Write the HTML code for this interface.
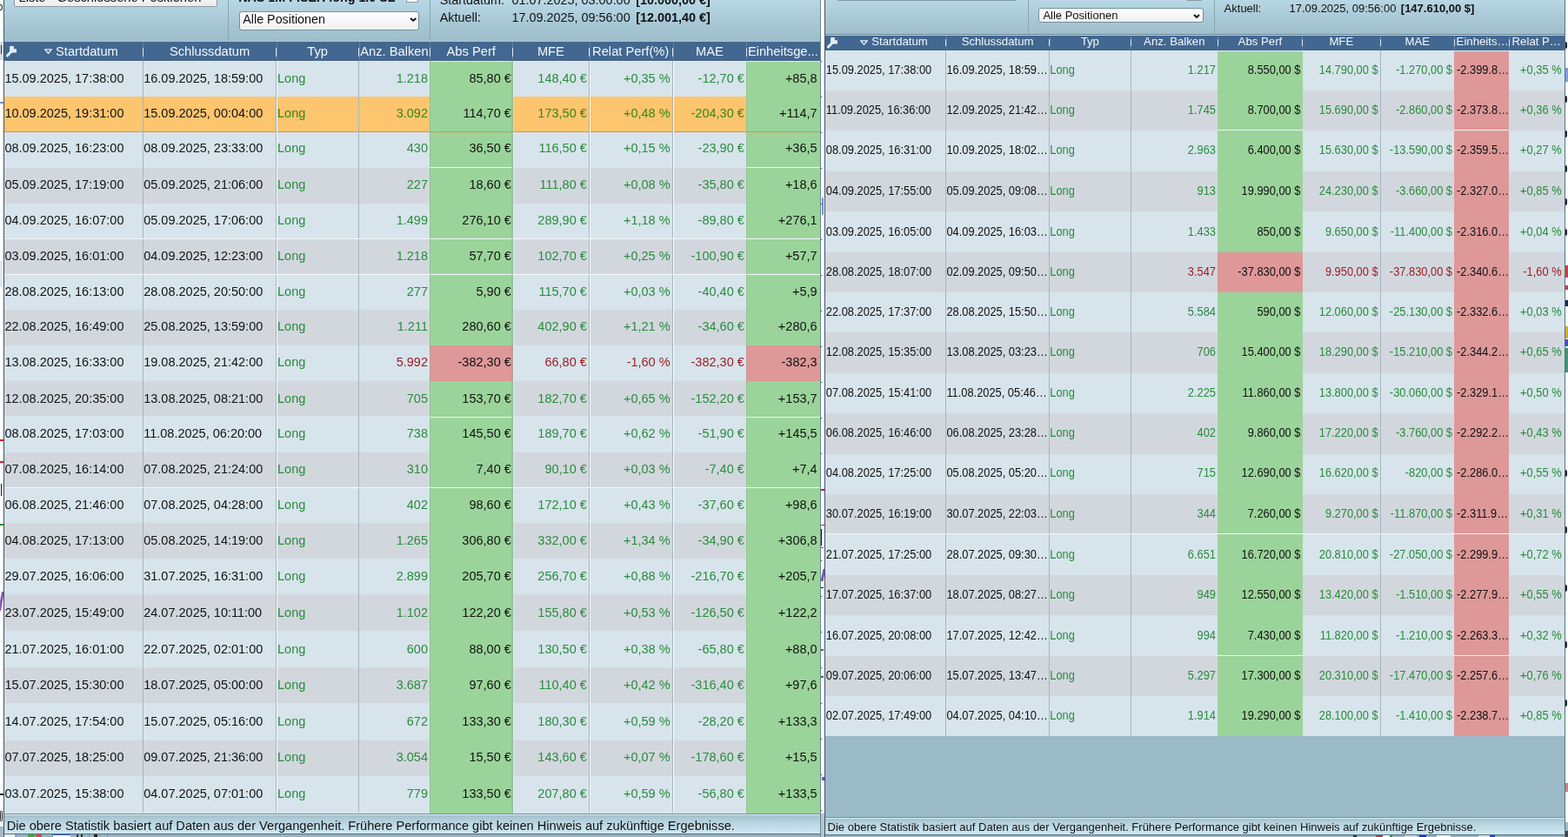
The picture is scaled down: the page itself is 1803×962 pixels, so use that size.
<!DOCTYPE html><html><head><meta charset="utf-8"><title>Geschlossene Positionen</title><style>
html,body{margin:0;padding:0;background:#ffffff;width:1803px;height:962px;overflow:hidden;}
body{position:relative;font-family:"Liberation Sans", Arial, sans-serif;}
body div, body svg{position:absolute;}
.t{white-space:nowrap;}
.sl{transform:scaleY(1.07);}
.sr{transform:scaleY(1.1);}
</style></head><body>
<div style="left:0.00px;top:958.00px;width:1803.00px;height:4.00px;background:#9ab2c0"></div>
<div style="left:0.00px;top:0.00px;width:3.90px;height:958.00px;background:#ffffff"></div>
<div style="left:943.60px;top:0.00px;width:4.20px;height:962.00px;background:#ffffff"></div>
<div style="left:1800.20px;top:0.00px;width:2.80px;height:962.00px;background:#ffffff"></div>
<div style="left:943.60px;top:935.00px;width:4.20px;height:27.00px;background:#b4c4cc"></div>
<div style="left:0.00px;top:950.00px;width:3.90px;height:12.00px;background:#a8b8c2"></div>
<div style="left:-3.00px;top:5.00px;width:6.00px;height:6.50px;border:1.3px solid #222;border-radius:50%;box-sizing:border-box"></div>
<div style="left:0.00px;top:48.00px;width:4.00px;height:21.00px;background:#d3dade"></div>
<div style="left:1.20px;top:52.00px;width:1.10px;height:10.00px;background:#333"></div>
<div style="left:0.00px;top:117.00px;width:4.00px;height:1.50px;background:#6f8fd8"></div>
<div style="left:0.00px;top:300.00px;width:4.00px;height:30.00px;background:#e4e8ea"></div>
<div style="left:0.00px;top:505.00px;width:4.00px;height:1.50px;background:#d02030"></div>
<div style="left:0.00px;top:530.00px;width:4.00px;height:1.50px;background:#d02030"></div>
<div style="left:1.00px;top:556.00px;width:1.20px;height:14.00px;background:#222"></div>
<div style="left:0.00px;top:602.00px;width:4.00px;height:1.50px;background:#209030"></div>
<div style="left:0.00px;top:680.00px;width:3.00px;height:22.00px;background:#8a5ab8;transform:skewX(-10deg)"></div>
<div style="left:0.00px;top:912.00px;width:4.00px;height:1.50px;background:#222"></div>
<div style="left:0.00px;top:930.00px;width:4.00px;height:20.00px;background:#f4f4f4"></div>
<div style="left:0.30px;top:932.00px;width:2.50px;height:12.00px;border:1.2px solid #222;border-radius:40%;box-sizing:border-box"></div>
<div style="left:944.20px;top:70.00px;width:1.20px;height:1.20px;background:#333"></div>
<div style="left:944.20px;top:111.00px;width:1.20px;height:1.20px;background:#333"></div>
<div style="left:944.20px;top:152.00px;width:1.20px;height:1.20px;background:#333"></div>
<div style="left:944.20px;top:193.00px;width:1.20px;height:1.20px;background:#333"></div>
<div style="left:944.20px;top:234.00px;width:1.20px;height:1.20px;background:#333"></div>
<div style="left:944.20px;top:275.00px;width:1.20px;height:1.20px;background:#333"></div>
<div style="left:944.20px;top:316.00px;width:1.20px;height:1.20px;background:#333"></div>
<div style="left:944.20px;top:357.00px;width:1.20px;height:1.20px;background:#333"></div>
<div style="left:944.20px;top:398.00px;width:1.20px;height:1.20px;background:#333"></div>
<div style="left:944.20px;top:439.00px;width:1.20px;height:1.20px;background:#333"></div>
<div style="left:944.20px;top:480.00px;width:1.20px;height:1.20px;background:#333"></div>
<div style="left:944.20px;top:521.00px;width:1.20px;height:1.20px;background:#333"></div>
<div style="left:944.20px;top:562.00px;width:1.20px;height:1.20px;background:#333"></div>
<div style="left:944.20px;top:603.00px;width:1.20px;height:1.20px;background:#333"></div>
<div style="left:944.20px;top:644.00px;width:1.20px;height:1.20px;background:#333"></div>
<div style="left:944.20px;top:685.00px;width:1.20px;height:1.20px;background:#333"></div>
<div style="left:944.20px;top:726.00px;width:1.20px;height:1.20px;background:#333"></div>
<div style="left:944.20px;top:767.00px;width:1.20px;height:1.20px;background:#333"></div>
<div style="left:944.20px;top:808.00px;width:1.20px;height:1.20px;background:#333"></div>
<div style="left:944.20px;top:849.00px;width:1.20px;height:1.20px;background:#333"></div>
<div style="left:944.20px;top:890.00px;width:1.20px;height:1.20px;background:#333"></div>
<div style="left:944.20px;top:931.00px;width:1.20px;height:1.20px;background:#333"></div>
<div style="left:945.20px;top:227.00px;width:2.20px;height:20.00px;background:#6a8ee0;border-radius:2px"></div>
<div style="left:944.00px;top:562.00px;width:4.00px;height:1.60px;background:#d01828"></div>
<div style="left:944.00px;top:603.00px;width:4.00px;height:1.40px;background:#d01828"></div>
<div style="left:944.30px;top:608.00px;width:1.20px;height:19.00px;background:#111"></div>
<div style="left:944.00px;top:629.00px;width:3.00px;height:1.20px;background:#d04040"></div>
<div style="left:945.00px;top:654.00px;width:2.60px;height:14.00px;background:#7a4ec0;transform:skewX(-12deg)"></div>
<div style="left:944.00px;top:675.00px;width:3.00px;height:1.40px;background:#111"></div>
<div style="left:944.00px;top:746.00px;width:3.00px;height:1.60px;background:#208030"></div>
<div style="left:944.00px;top:777.00px;width:3.00px;height:1.60px;background:#208030"></div>
<div style="left:945.00px;top:893.00px;width:2.60px;height:4.00px;background:#6a50c8"></div>
<div style="left:4.00px;top:959.00px;width:13.00px;height:3.00px;background:#eef0f2"></div>
<div style="left:32.00px;top:959.00px;width:8.00px;height:3.00px;background:#3caa3c"></div>
<div style="left:41.00px;top:959.00px;width:7.00px;height:3.00px;background:#d04a4a"></div>
<div style="left:60.00px;top:959.00px;width:20.00px;height:3.00px;background:#ffffff;border-left:1.5px solid #3caa3c;border-top:1px solid #3060c0"></div>
<div style="left:88.00px;top:959.00px;width:2.00px;height:3.00px;background:#333"></div>
<div style="left:93.00px;top:959.00px;width:2.00px;height:3.00px;background:#333"></div>
<div style="left:108.00px;top:959.00px;width:4.00px;height:3.00px;background:#222"></div>
<div style="left:18.00px;top:959.00px;width:1.00px;height:3.00px;background:#7890a0"></div>
<div style="left:102.00px;top:959.00px;width:1.00px;height:3.00px;background:#7890a0"></div>
<div style="left:123.00px;top:959.00px;width:1.00px;height:3.00px;background:#7890a0"></div>
<div style="left:1556.00px;top:960.00px;width:4.00px;height:2.00px;background:#333"></div>
<div style="left:1582.00px;top:960.00px;width:8.00px;height:2.00px;background:#c83a3a"></div>
<div style="left:1590.00px;top:960.00px;width:8.00px;height:2.00px;background:#ffffff"></div>
<div style="left:1598.00px;top:960.00px;width:3.00px;height:2.00px;background:#30a030"></div>
<div style="left:1615.00px;top:960.00px;width:14.00px;height:2.00px;background:#d8d8d8"></div>
<div style="left:1632.00px;top:960.00px;width:8.00px;height:2.00px;background:#1030e0"></div>
<div style="left:1652.00px;top:960.00px;width:16.00px;height:2.00px;background:#ffffff"></div>
<div style="left:1700.00px;top:960.00px;width:14.00px;height:2.00px;background:#e0e0e0"></div>
<div style="left:1713.00px;top:960.00px;width:6.00px;height:2.00px;background:#2040d0"></div>
<div style="left:1800.30px;top:48.00px;width:1.60px;height:8.00px;background:#222;border-radius:0 3px 3px 0"></div>
<div style="left:1800.30px;top:110.00px;width:1.60px;height:8.00px;background:#222;border-radius:0 3px 3px 0"></div>
<div style="left:1800.30px;top:150.00px;width:1.60px;height:8.00px;background:#222;border-radius:0 3px 3px 0"></div>
<div style="left:1800.30px;top:190.00px;width:1.60px;height:8.00px;background:#222;border-radius:0 3px 3px 0"></div>
<div style="left:1800.30px;top:228.00px;width:1.60px;height:8.00px;background:#222;border-radius:0 3px 3px 0"></div>
<div style="left:1800.30px;top:263.00px;width:1.60px;height:8.00px;background:#222;border-radius:0 3px 3px 0"></div>
<div style="left:1800.30px;top:540.00px;width:1.60px;height:8.00px;background:#222;border-radius:0 3px 3px 0"></div>
<div style="left:1800.30px;top:605.00px;width:1.60px;height:8.00px;background:#222;border-radius:0 3px 3px 0"></div>
<div style="left:1800.30px;top:672.00px;width:1.60px;height:8.00px;background:#222;border-radius:0 3px 3px 0"></div>
<div style="left:1800.30px;top:737.00px;width:1.60px;height:8.00px;background:#222;border-radius:0 3px 3px 0"></div>
<div style="left:1800.30px;top:804.00px;width:1.60px;height:8.00px;background:#222;border-radius:0 3px 3px 0"></div>
<div style="left:1800.30px;top:78.00px;width:2.50px;height:16.00px;background:#7aa0e0"></div>
<div style="left:1800.30px;top:305.00px;width:2.50px;height:14.00px;background:#c84040"></div>
<div style="left:1800.30px;top:328.00px;width:2.50px;height:5.00px;background:#c84040"></div>
<div style="left:1800.30px;top:345.00px;width:2.50px;height:7.00px;background:#202050"></div>
<div style="left:1800.30px;top:375.00px;width:2.50px;height:14.00px;background:#d8a830"></div>
<div style="left:1800.30px;top:390.00px;width:2.50px;height:8.00px;background:#4a4ac8"></div>
<div style="left:1800.30px;top:400.00px;width:2.50px;height:28.00px;background:#3a9a6a"></div>
<div style="left:1800.20px;top:945.00px;width:2.80px;height:10.00px;background:#a6b8c4"></div>
<div style="left:1800.20px;top:955.00px;width:2.80px;height:7.00px;background:#444"></div>
<div style="left:1800.20px;top:900.00px;width:2.80px;height:10.00px;background:#d08080"></div>
<div style="left:5.00px;top:0.00px;width:938.60px;height:48.20px;background:linear-gradient(#b9d8e6,#a9c9d7 50%,#9dbdcb)"></div>
<div style="left:16.20px;top:-14.00px;width:233.50px;height:22.20px;background:linear-gradient(#ffffff,#ececec);border:1px solid #8f9aa3;border-radius:2px;box-sizing:border-box"></div>
<div class="t" style="left:21.5px;top:-11.4px;font-size:14.7px;line-height:16px;color:#111">Liste - Geschlossene Positionen</div>
<div style="left:262.20px;top:0.00px;width:1.00px;height:48.20px;background:#87a6b5"></div>
<div style="left:494.20px;top:0.00px;width:1.00px;height:48.20px;background:#87a6b5"></div>
<div class="t" style="left:274.2px;top:-10.6px;font-size:14.3px;line-height:16px;font-weight:bold;color:#111">NAS 1M FISER long 1.0 SL</div>
<div style="left:467.20px;top:-10.00px;width:13.40px;height:12.50px;background:#fafafa;border:1px solid #8a96a0;box-sizing:border-box"></div>
<div style="left:275.40px;top:13.30px;width:206.60px;height:21.60px;background:linear-gradient(#ffffff,#f0f0f0);border:1px solid #72909c;border-radius:3px;box-sizing:border-box"></div>
<div class="t" style="left:279.3px;top:13.2px;font-size:14.3px;line-height:19px;color:#111">Alle Positionen</div>
<svg style="left:470.6px;top:20.4px;width:8.4px;height:4.8px" viewBox="0 0 8.4 4.8"><path d="M1 1 L4.2 3.6999999999999997 L7.4 1" fill="none" stroke="#111" stroke-width="2"/></svg>
<div class="t" style="left:505.7px;top:-8.4px;font-size:14.4px;line-height:16px;color:#111">Startdatum:</div>
<div class="t" style="left:588.6px;top:-8.4px;font-size:14.4px;line-height:16px;color:#111">01.07.2025, 03:00:00</div>
<div class="t" style="left:731.3px;top:-8.4px;font-size:14.4px;line-height:16px;color:#111;font-weight:bold">[10.000,00 €]</div>
<div class="t" style="left:505.7px;top:11.5px;font-size:14.4px;line-height:16px;color:#111">Aktuell:</div>
<div class="t" style="left:588.6px;top:11.5px;font-size:14.4px;line-height:16px;color:#111">17.09.2025, 09:56:00</div>
<div class="t" style="left:731.3px;top:11.5px;font-size:14.4px;line-height:16px;color:#111;font-weight:bold">[12.001,40 €]</div>
<div style="left:5.00px;top:47.00px;width:938.60px;height:1.00px;background:#a6c4d4"></div>
<div style="left:5.00px;top:48.00px;width:938.60px;height:21.00px;background:#426790"></div>
<div style="left:5.00px;top:69.00px;width:938.60px;height:1.00px;background:#4a6482"></div>
<svg style="left:6.0px;top:51.8px;width:14.0px;height:14.0px" viewBox="0 0 14 14"><path d="M2.4 12.0 L7.4 6.8" stroke="#e6eefa" stroke-width="3.0" stroke-linecap="round" fill="none"/><path d="M5.1 1.7 Q5.3 1.0 6.0 1.0 L9.9 1.0 L9.9 4.2 L13.0 4.2 L13.0 8.6 L7.4 8.6 L5.1 6.6 Z" fill="#e6eefa"/></svg>
<svg style="left:51.2px;top:55.8px;width:9px;height:6px" viewBox="0 0 9 6"><path d="M0.7 0.8 L8.3 0.8 L4.5 5.4 Z" fill="none" stroke="#e6eefa" stroke-width="1.3" stroke-linejoin="miter"/></svg>
<div class="t" style="left:64.00px;top:48.80px;height:21.50px;line-height:21.50px;font-size:14.7px;color:#f2f6fa;">Startdatum</div>
<div class="t" style="left:164.50px;width:153.20px;top:48.80px;height:21.50px;line-height:21.50px;font-size:14.7px;color:#f2f6fa;text-align:center;">Schlussdatum</div>
<div class="t" style="left:317.70px;width:95.00px;top:48.80px;height:21.50px;line-height:21.50px;font-size:14.7px;color:#f2f6fa;text-align:center;">Typ</div>
<div class="t" style="left:414.30px;top:48.80px;height:21.50px;line-height:21.50px;font-size:14.7px;color:#f2f6fa;">Anz. Balken</div>
<div class="t" style="left:494.30px;width:94.80px;top:48.80px;height:21.50px;line-height:21.50px;font-size:14.7px;color:#f2f6fa;text-align:center;">Abs Perf</div>
<div class="t" style="left:589.10px;width:88.60px;top:48.80px;height:21.50px;line-height:21.50px;font-size:14.7px;color:#f2f6fa;text-align:center;">MFE</div>
<div class="t" style="left:681.10px;top:48.80px;height:21.50px;line-height:21.50px;font-size:14.7px;color:#f2f6fa;">Relat Perf(%)</div>
<div class="t" style="left:773.70px;width:84.60px;top:48.80px;height:21.50px;line-height:21.50px;font-size:14.7px;color:#f2f6fa;text-align:center;">MAE</div>
<div class="t" style="left:859.90px;top:48.80px;height:21.50px;line-height:21.50px;font-size:14.7px;color:#f2f6fa;">Einheitsge...</div>
<div style="left:163.50px;top:48.00px;width:1.00px;height:21.00px;background:rgba(210,225,235,0.22)"></div>
<div style="left:164.00px;top:54.60px;width:1.20px;height:10.70px;background:#dfe8f2"></div>
<div style="left:317.50px;top:48.00px;width:1.00px;height:21.00px;background:rgba(210,225,235,0.22)"></div>
<div style="left:317.20px;top:54.60px;width:1.20px;height:10.70px;background:#dfe8f2"></div>
<div style="left:412.50px;top:48.00px;width:1.00px;height:21.00px;background:rgba(210,225,235,0.22)"></div>
<div style="left:412.20px;top:54.60px;width:1.20px;height:10.70px;background:#dfe8f2"></div>
<div style="left:493.50px;top:48.00px;width:1.00px;height:21.00px;background:rgba(210,225,235,0.22)"></div>
<div style="left:493.80px;top:54.60px;width:1.20px;height:10.70px;background:#dfe8f2"></div>
<div style="left:588.50px;top:48.00px;width:1.00px;height:21.00px;background:rgba(210,225,235,0.22)"></div>
<div style="left:588.60px;top:54.60px;width:1.20px;height:10.70px;background:#dfe8f2"></div>
<div style="left:677.50px;top:48.00px;width:1.00px;height:21.00px;background:rgba(210,225,235,0.22)"></div>
<div style="left:677.20px;top:54.60px;width:1.20px;height:10.70px;background:#dfe8f2"></div>
<div style="left:773.50px;top:48.00px;width:1.00px;height:21.00px;background:rgba(210,225,235,0.22)"></div>
<div style="left:773.20px;top:54.60px;width:1.20px;height:10.70px;background:#dfe8f2"></div>
<div style="left:857.50px;top:48.00px;width:1.00px;height:21.00px;background:rgba(210,225,235,0.22)"></div>
<div style="left:857.80px;top:54.60px;width:1.20px;height:10.70px;background:#dfe8f2"></div>
<div style="left:5.00px;top:70.00px;width:938.60px;height:41.00px;background:#d7e4ec"></div>
<div style="left:494.00px;top:70.00px;width:96.00px;height:41.00px;background:#9bd49a"></div>
<div style="left:858.00px;top:70.00px;width:86.00px;height:41.00px;background:#9bd49a"></div>
<div class="t sl" style="left:5.40px;top:69.95px;height:41.00px;line-height:41.00px;font-size:14.5px;color:#111111;">15.09.2025, 17:38:00</div>
<div class="t sl" style="left:165.20px;top:69.95px;height:41.00px;line-height:41.00px;font-size:14.5px;color:#111111;">16.09.2025, 18:59:00</div>
<div class="t sl" style="left:319.00px;top:69.95px;height:41.00px;line-height:41.00px;font-size:14.5px;color:#288c3a;">Long</div>
<div class="t sl" style="right:1311.00px;top:69.95px;height:41.00px;line-height:41.00px;font-size:14.5px;color:#288c3a;text-align:right;">1.218</div>
<div class="t sl" style="right:1215.20px;top:69.95px;height:41.00px;line-height:41.00px;font-size:14.5px;color:#111111;text-align:right;">85,80 €</div>
<div class="t sl" style="right:1128.20px;top:69.95px;height:41.00px;line-height:41.00px;font-size:14.5px;color:#288c3a;text-align:right;">148,40 €</div>
<div class="t sl" style="right:1032.40px;top:69.95px;height:41.00px;line-height:41.00px;font-size:14.5px;color:#288c3a;text-align:right;">+0,35 %</div>
<div class="t sl" style="right:947.20px;top:69.95px;height:41.00px;line-height:41.00px;font-size:14.5px;color:#288c3a;text-align:right;">-12,70 €</div>
<div class="t sl" style="right:863.40px;top:69.95px;height:41.00px;line-height:41.00px;font-size:14.5px;color:#111111;text-align:right;">+85,8</div>
<div style="left:5.00px;top:111.00px;width:938.60px;height:41.00px;background:#fdc56e"></div>
<div style="left:494.00px;top:111.00px;width:96.00px;height:41.00px;background:#9bd49a"></div>
<div style="left:858.00px;top:111.00px;width:86.00px;height:41.00px;background:#9bd49a"></div>
<div style="left:5.00px;top:151.00px;width:938.60px;height:1.00px;background:#d4924e"></div>
<div class="t sl" style="left:5.40px;top:110.30px;height:41.00px;line-height:41.00px;font-size:14.5px;color:#111111;">10.09.2025, 19:31:00</div>
<div class="t sl" style="left:165.20px;top:110.30px;height:41.00px;line-height:41.00px;font-size:14.5px;color:#111111;">15.09.2025, 00:04:00</div>
<div class="t sl" style="left:319.00px;top:110.30px;height:41.00px;line-height:41.00px;font-size:14.5px;color:#3a8616;">Long</div>
<div class="t sl" style="right:1311.00px;top:110.30px;height:41.00px;line-height:41.00px;font-size:14.5px;color:#3a8616;text-align:right;">3.092</div>
<div class="t sl" style="right:1215.20px;top:110.30px;height:41.00px;line-height:41.00px;font-size:14.5px;color:#111111;text-align:right;">114,70 €</div>
<div class="t sl" style="right:1128.20px;top:110.30px;height:41.00px;line-height:41.00px;font-size:14.5px;color:#3a8616;text-align:right;">173,50 €</div>
<div class="t sl" style="right:1032.40px;top:110.30px;height:41.00px;line-height:41.00px;font-size:14.5px;color:#3a8616;text-align:right;">+0,48 %</div>
<div class="t sl" style="right:947.20px;top:110.30px;height:41.00px;line-height:41.00px;font-size:14.5px;color:#3a8616;text-align:right;">-204,30 €</div>
<div class="t sl" style="right:863.40px;top:110.30px;height:41.00px;line-height:41.00px;font-size:14.5px;color:#111111;text-align:right;">+114,7</div>
<div style="left:5.00px;top:152.00px;width:938.60px;height:41.00px;background:#d7e4ec"></div>
<div style="left:494.00px;top:152.00px;width:96.00px;height:41.00px;background:#9bd49a"></div>
<div style="left:858.00px;top:152.00px;width:86.00px;height:41.00px;background:#9bd49a"></div>
<div class="t sl" style="left:5.40px;top:150.40px;height:41.00px;line-height:41.00px;font-size:14.5px;color:#111111;">08.09.2025, 16:23:00</div>
<div class="t sl" style="left:165.20px;top:150.40px;height:41.00px;line-height:41.00px;font-size:14.5px;color:#111111;">08.09.2025, 23:33:00</div>
<div class="t sl" style="left:319.00px;top:150.40px;height:41.00px;line-height:41.00px;font-size:14.5px;color:#288c3a;">Long</div>
<div class="t sl" style="right:1311.00px;top:150.40px;height:41.00px;line-height:41.00px;font-size:14.5px;color:#288c3a;text-align:right;">430</div>
<div class="t sl" style="right:1215.20px;top:150.40px;height:41.00px;line-height:41.00px;font-size:14.5px;color:#111111;text-align:right;">36,50 €</div>
<div class="t sl" style="right:1128.20px;top:150.40px;height:41.00px;line-height:41.00px;font-size:14.5px;color:#288c3a;text-align:right;">116,50 €</div>
<div class="t sl" style="right:1032.40px;top:150.40px;height:41.00px;line-height:41.00px;font-size:14.5px;color:#288c3a;text-align:right;">+0,15 %</div>
<div class="t sl" style="right:947.20px;top:150.40px;height:41.00px;line-height:41.00px;font-size:14.5px;color:#288c3a;text-align:right;">-23,90 €</div>
<div class="t sl" style="right:863.40px;top:150.40px;height:41.00px;line-height:41.00px;font-size:14.5px;color:#111111;text-align:right;">+36,5</div>
<div style="left:5.00px;top:193.00px;width:938.60px;height:41.00px;background:#d2d7de"></div>
<div style="left:494.00px;top:193.00px;width:96.00px;height:41.00px;background:#9bd49a"></div>
<div style="left:858.00px;top:193.00px;width:86.00px;height:41.00px;background:#9bd49a"></div>
<div class="t sl" style="left:5.40px;top:191.60px;height:41.00px;line-height:41.00px;font-size:14.5px;color:#111111;">05.09.2025, 17:19:00</div>
<div class="t sl" style="left:165.20px;top:191.60px;height:41.00px;line-height:41.00px;font-size:14.5px;color:#111111;">05.09.2025, 21:06:00</div>
<div class="t sl" style="left:319.00px;top:191.60px;height:41.00px;line-height:41.00px;font-size:14.5px;color:#288c3a;">Long</div>
<div class="t sl" style="right:1311.00px;top:191.60px;height:41.00px;line-height:41.00px;font-size:14.5px;color:#288c3a;text-align:right;">227</div>
<div class="t sl" style="right:1215.20px;top:191.60px;height:41.00px;line-height:41.00px;font-size:14.5px;color:#111111;text-align:right;">18,60 €</div>
<div class="t sl" style="right:1128.20px;top:191.60px;height:41.00px;line-height:41.00px;font-size:14.5px;color:#288c3a;text-align:right;">111,80 €</div>
<div class="t sl" style="right:1032.40px;top:191.60px;height:41.00px;line-height:41.00px;font-size:14.5px;color:#288c3a;text-align:right;">+0,08 %</div>
<div class="t sl" style="right:947.20px;top:191.60px;height:41.00px;line-height:41.00px;font-size:14.5px;color:#288c3a;text-align:right;">-35,80 €</div>
<div class="t sl" style="right:863.40px;top:191.60px;height:41.00px;line-height:41.00px;font-size:14.5px;color:#111111;text-align:right;">+18,6</div>
<div style="left:5.00px;top:234.00px;width:938.60px;height:40.00px;background:#d7e4ec"></div>
<div style="left:494.00px;top:234.00px;width:96.00px;height:40.00px;background:#9bd49a"></div>
<div style="left:858.00px;top:234.00px;width:86.00px;height:40.00px;background:#9bd49a"></div>
<div class="t sl" style="left:5.40px;top:233.10px;height:40.00px;line-height:40.00px;font-size:14.5px;color:#111111;">04.09.2025, 16:07:00</div>
<div class="t sl" style="left:165.20px;top:233.10px;height:40.00px;line-height:40.00px;font-size:14.5px;color:#111111;">05.09.2025, 17:06:00</div>
<div class="t sl" style="left:319.00px;top:233.10px;height:40.00px;line-height:40.00px;font-size:14.5px;color:#288c3a;">Long</div>
<div class="t sl" style="right:1311.00px;top:233.10px;height:40.00px;line-height:40.00px;font-size:14.5px;color:#288c3a;text-align:right;">1.499</div>
<div class="t sl" style="right:1215.20px;top:233.10px;height:40.00px;line-height:40.00px;font-size:14.5px;color:#111111;text-align:right;">276,10 €</div>
<div class="t sl" style="right:1128.20px;top:233.10px;height:40.00px;line-height:40.00px;font-size:14.5px;color:#288c3a;text-align:right;">289,90 €</div>
<div class="t sl" style="right:1032.40px;top:233.10px;height:40.00px;line-height:40.00px;font-size:14.5px;color:#288c3a;text-align:right;">+1,18 %</div>
<div class="t sl" style="right:947.20px;top:233.10px;height:40.00px;line-height:40.00px;font-size:14.5px;color:#288c3a;text-align:right;">-89,80 €</div>
<div class="t sl" style="right:863.40px;top:233.10px;height:40.00px;line-height:40.00px;font-size:14.5px;color:#111111;text-align:right;">+276,1</div>
<div style="left:5.00px;top:274.00px;width:938.60px;height:42.00px;background:#d2d7de"></div>
<div style="left:494.00px;top:274.00px;width:96.00px;height:42.00px;background:#9bd49a"></div>
<div style="left:858.00px;top:274.00px;width:86.00px;height:42.00px;background:#9bd49a"></div>
<div class="t sl" style="left:5.40px;top:273.00px;height:42.00px;line-height:42.00px;font-size:14.5px;color:#111111;">03.09.2025, 16:01:00</div>
<div class="t sl" style="left:165.20px;top:273.00px;height:42.00px;line-height:42.00px;font-size:14.5px;color:#111111;">04.09.2025, 12:23:00</div>
<div class="t sl" style="left:319.00px;top:273.00px;height:42.00px;line-height:42.00px;font-size:14.5px;color:#288c3a;">Long</div>
<div class="t sl" style="right:1311.00px;top:273.00px;height:42.00px;line-height:42.00px;font-size:14.5px;color:#288c3a;text-align:right;">1.218</div>
<div class="t sl" style="right:1215.20px;top:273.00px;height:42.00px;line-height:42.00px;font-size:14.5px;color:#111111;text-align:right;">57,70 €</div>
<div class="t sl" style="right:1128.20px;top:273.00px;height:42.00px;line-height:42.00px;font-size:14.5px;color:#288c3a;text-align:right;">102,70 €</div>
<div class="t sl" style="right:1032.40px;top:273.00px;height:42.00px;line-height:42.00px;font-size:14.5px;color:#288c3a;text-align:right;">+0,25 %</div>
<div class="t sl" style="right:947.20px;top:273.00px;height:42.00px;line-height:42.00px;font-size:14.5px;color:#288c3a;text-align:right;">-100,90 €</div>
<div class="t sl" style="right:863.40px;top:273.00px;height:42.00px;line-height:42.00px;font-size:14.5px;color:#111111;text-align:right;">+57,7</div>
<div style="left:5.00px;top:316.00px;width:938.60px;height:40.00px;background:#d7e4ec"></div>
<div style="left:494.00px;top:316.00px;width:96.00px;height:40.00px;background:#9bd49a"></div>
<div style="left:858.00px;top:316.00px;width:86.00px;height:40.00px;background:#9bd49a"></div>
<div class="t sl" style="left:5.40px;top:315.00px;height:40.00px;line-height:40.00px;font-size:14.5px;color:#111111;">28.08.2025, 16:13:00</div>
<div class="t sl" style="left:165.20px;top:315.00px;height:40.00px;line-height:40.00px;font-size:14.5px;color:#111111;">28.08.2025, 20:50:00</div>
<div class="t sl" style="left:319.00px;top:315.00px;height:40.00px;line-height:40.00px;font-size:14.5px;color:#288c3a;">Long</div>
<div class="t sl" style="right:1311.00px;top:315.00px;height:40.00px;line-height:40.00px;font-size:14.5px;color:#288c3a;text-align:right;">277</div>
<div class="t sl" style="right:1215.20px;top:315.00px;height:40.00px;line-height:40.00px;font-size:14.5px;color:#111111;text-align:right;">5,90 €</div>
<div class="t sl" style="right:1128.20px;top:315.00px;height:40.00px;line-height:40.00px;font-size:14.5px;color:#288c3a;text-align:right;">115,70 €</div>
<div class="t sl" style="right:1032.40px;top:315.00px;height:40.00px;line-height:40.00px;font-size:14.5px;color:#288c3a;text-align:right;">+0,03 %</div>
<div class="t sl" style="right:947.20px;top:315.00px;height:40.00px;line-height:40.00px;font-size:14.5px;color:#288c3a;text-align:right;">-40,40 €</div>
<div class="t sl" style="right:863.40px;top:315.00px;height:40.00px;line-height:40.00px;font-size:14.5px;color:#111111;text-align:right;">+5,9</div>
<div style="left:5.00px;top:356.00px;width:938.60px;height:41.00px;background:#d2d7de"></div>
<div style="left:494.00px;top:356.00px;width:96.00px;height:41.00px;background:#9bd49a"></div>
<div style="left:858.00px;top:356.00px;width:86.00px;height:41.00px;background:#9bd49a"></div>
<div class="t sl" style="left:5.40px;top:355.40px;height:41.00px;line-height:41.00px;font-size:14.5px;color:#111111;">22.08.2025, 16:49:00</div>
<div class="t sl" style="left:165.20px;top:355.40px;height:41.00px;line-height:41.00px;font-size:14.5px;color:#111111;">25.08.2025, 13:59:00</div>
<div class="t sl" style="left:319.00px;top:355.40px;height:41.00px;line-height:41.00px;font-size:14.5px;color:#288c3a;">Long</div>
<div class="t sl" style="right:1311.00px;top:355.40px;height:41.00px;line-height:41.00px;font-size:14.5px;color:#288c3a;text-align:right;">1.211</div>
<div class="t sl" style="right:1215.20px;top:355.40px;height:41.00px;line-height:41.00px;font-size:14.5px;color:#111111;text-align:right;">280,60 €</div>
<div class="t sl" style="right:1128.20px;top:355.40px;height:41.00px;line-height:41.00px;font-size:14.5px;color:#288c3a;text-align:right;">402,90 €</div>
<div class="t sl" style="right:1032.40px;top:355.40px;height:41.00px;line-height:41.00px;font-size:14.5px;color:#288c3a;text-align:right;">+1,21 %</div>
<div class="t sl" style="right:947.20px;top:355.40px;height:41.00px;line-height:41.00px;font-size:14.5px;color:#288c3a;text-align:right;">-34,60 €</div>
<div class="t sl" style="right:863.40px;top:355.40px;height:41.00px;line-height:41.00px;font-size:14.5px;color:#111111;text-align:right;">+280,6</div>
<div style="left:5.00px;top:397.00px;width:938.60px;height:41.00px;background:#d7e4ec"></div>
<div style="left:494.00px;top:397.00px;width:96.00px;height:41.00px;background:#de9898"></div>
<div style="left:858.00px;top:397.00px;width:86.00px;height:41.00px;background:#de9898"></div>
<div class="t sl" style="left:5.40px;top:396.30px;height:41.00px;line-height:41.00px;font-size:14.5px;color:#111111;">13.08.2025, 16:33:00</div>
<div class="t sl" style="left:165.20px;top:396.30px;height:41.00px;line-height:41.00px;font-size:14.5px;color:#111111;">19.08.2025, 21:42:00</div>
<div class="t sl" style="left:319.00px;top:396.30px;height:41.00px;line-height:41.00px;font-size:14.5px;color:#288c3a;">Long</div>
<div class="t sl" style="right:1311.00px;top:396.30px;height:41.00px;line-height:41.00px;font-size:14.5px;color:#9e1a1e;text-align:right;">5.992</div>
<div class="t sl" style="right:1215.20px;top:396.30px;height:41.00px;line-height:41.00px;font-size:14.5px;color:#111111;text-align:right;">-382,30 €</div>
<div class="t sl" style="right:1128.20px;top:396.30px;height:41.00px;line-height:41.00px;font-size:14.5px;color:#9e1a1e;text-align:right;">66,80 €</div>
<div class="t sl" style="right:1032.40px;top:396.30px;height:41.00px;line-height:41.00px;font-size:14.5px;color:#9e1a1e;text-align:right;">-1,60 %</div>
<div class="t sl" style="right:947.20px;top:396.30px;height:41.00px;line-height:41.00px;font-size:14.5px;color:#9e1a1e;text-align:right;">-382,30 €</div>
<div class="t sl" style="right:863.40px;top:396.30px;height:41.00px;line-height:41.00px;font-size:14.5px;color:#111111;text-align:right;">-382,3</div>
<div style="left:5.00px;top:438.00px;width:938.60px;height:40.00px;background:#d2d7de"></div>
<div style="left:494.00px;top:438.00px;width:96.00px;height:40.00px;background:#9bd49a"></div>
<div style="left:858.00px;top:438.00px;width:86.00px;height:40.00px;background:#9bd49a"></div>
<div class="t sl" style="left:5.40px;top:437.50px;height:40.00px;line-height:40.00px;font-size:14.5px;color:#111111;">12.08.2025, 20:35:00</div>
<div class="t sl" style="left:165.20px;top:437.50px;height:40.00px;line-height:40.00px;font-size:14.5px;color:#111111;">13.08.2025, 08:21:00</div>
<div class="t sl" style="left:319.00px;top:437.50px;height:40.00px;line-height:40.00px;font-size:14.5px;color:#288c3a;">Long</div>
<div class="t sl" style="right:1311.00px;top:437.50px;height:40.00px;line-height:40.00px;font-size:14.5px;color:#288c3a;text-align:right;">705</div>
<div class="t sl" style="right:1215.20px;top:437.50px;height:40.00px;line-height:40.00px;font-size:14.5px;color:#111111;text-align:right;">153,70 €</div>
<div class="t sl" style="right:1128.20px;top:437.50px;height:40.00px;line-height:40.00px;font-size:14.5px;color:#288c3a;text-align:right;">182,70 €</div>
<div class="t sl" style="right:1032.40px;top:437.50px;height:40.00px;line-height:40.00px;font-size:14.5px;color:#288c3a;text-align:right;">+0,65 %</div>
<div class="t sl" style="right:947.20px;top:437.50px;height:40.00px;line-height:40.00px;font-size:14.5px;color:#288c3a;text-align:right;">-152,20 €</div>
<div class="t sl" style="right:863.40px;top:437.50px;height:40.00px;line-height:40.00px;font-size:14.5px;color:#111111;text-align:right;">+153,7</div>
<div style="left:5.00px;top:478.00px;width:938.60px;height:42.00px;background:#d7e4ec"></div>
<div style="left:494.00px;top:478.00px;width:96.00px;height:42.00px;background:#9bd49a"></div>
<div style="left:858.00px;top:478.00px;width:86.00px;height:42.00px;background:#9bd49a"></div>
<div class="t sl" style="left:5.40px;top:477.20px;height:42.00px;line-height:42.00px;font-size:14.5px;color:#111111;">08.08.2025, 17:03:00</div>
<div class="t sl" style="left:165.20px;top:477.20px;height:42.00px;line-height:42.00px;font-size:14.5px;color:#111111;">11.08.2025, 06:20:00</div>
<div class="t sl" style="left:319.00px;top:477.20px;height:42.00px;line-height:42.00px;font-size:14.5px;color:#288c3a;">Long</div>
<div class="t sl" style="right:1311.00px;top:477.20px;height:42.00px;line-height:42.00px;font-size:14.5px;color:#288c3a;text-align:right;">738</div>
<div class="t sl" style="right:1215.20px;top:477.20px;height:42.00px;line-height:42.00px;font-size:14.5px;color:#111111;text-align:right;">145,50 €</div>
<div class="t sl" style="right:1128.20px;top:477.20px;height:42.00px;line-height:42.00px;font-size:14.5px;color:#288c3a;text-align:right;">189,70 €</div>
<div class="t sl" style="right:1032.40px;top:477.20px;height:42.00px;line-height:42.00px;font-size:14.5px;color:#288c3a;text-align:right;">+0,62 %</div>
<div class="t sl" style="right:947.20px;top:477.20px;height:42.00px;line-height:42.00px;font-size:14.5px;color:#288c3a;text-align:right;">-51,90 €</div>
<div class="t sl" style="right:863.40px;top:477.20px;height:42.00px;line-height:42.00px;font-size:14.5px;color:#111111;text-align:right;">+145,5</div>
<div style="left:5.00px;top:520.00px;width:938.60px;height:41.00px;background:#d2d7de"></div>
<div style="left:494.00px;top:520.00px;width:96.00px;height:41.00px;background:#9bd49a"></div>
<div style="left:858.00px;top:520.00px;width:86.00px;height:41.00px;background:#9bd49a"></div>
<div class="t sl" style="left:5.40px;top:518.50px;height:41.00px;line-height:41.00px;font-size:14.5px;color:#111111;">07.08.2025, 16:14:00</div>
<div class="t sl" style="left:165.20px;top:518.50px;height:41.00px;line-height:41.00px;font-size:14.5px;color:#111111;">07.08.2025, 21:24:00</div>
<div class="t sl" style="left:319.00px;top:518.50px;height:41.00px;line-height:41.00px;font-size:14.5px;color:#288c3a;">Long</div>
<div class="t sl" style="right:1311.00px;top:518.50px;height:41.00px;line-height:41.00px;font-size:14.5px;color:#288c3a;text-align:right;">310</div>
<div class="t sl" style="right:1215.20px;top:518.50px;height:41.00px;line-height:41.00px;font-size:14.5px;color:#111111;text-align:right;">7,40 €</div>
<div class="t sl" style="right:1128.20px;top:518.50px;height:41.00px;line-height:41.00px;font-size:14.5px;color:#288c3a;text-align:right;">90,10 €</div>
<div class="t sl" style="right:1032.40px;top:518.50px;height:41.00px;line-height:41.00px;font-size:14.5px;color:#288c3a;text-align:right;">+0,03 %</div>
<div class="t sl" style="right:947.20px;top:518.50px;height:41.00px;line-height:41.00px;font-size:14.5px;color:#288c3a;text-align:right;">-7,40 €</div>
<div class="t sl" style="right:863.40px;top:518.50px;height:41.00px;line-height:41.00px;font-size:14.5px;color:#111111;text-align:right;">+7,4</div>
<div style="left:5.00px;top:561.00px;width:938.60px;height:40.00px;background:#d7e4ec"></div>
<div style="left:494.00px;top:561.00px;width:96.00px;height:40.00px;background:#9bd49a"></div>
<div style="left:858.00px;top:561.00px;width:86.00px;height:40.00px;background:#9bd49a"></div>
<div class="t sl" style="left:5.40px;top:560.00px;height:40.00px;line-height:40.00px;font-size:14.5px;color:#111111;">06.08.2025, 21:46:00</div>
<div class="t sl" style="left:165.20px;top:560.00px;height:40.00px;line-height:40.00px;font-size:14.5px;color:#111111;">07.08.2025, 04:28:00</div>
<div class="t sl" style="left:319.00px;top:560.00px;height:40.00px;line-height:40.00px;font-size:14.5px;color:#288c3a;">Long</div>
<div class="t sl" style="right:1311.00px;top:560.00px;height:40.00px;line-height:40.00px;font-size:14.5px;color:#288c3a;text-align:right;">402</div>
<div class="t sl" style="right:1215.20px;top:560.00px;height:40.00px;line-height:40.00px;font-size:14.5px;color:#111111;text-align:right;">98,60 €</div>
<div class="t sl" style="right:1128.20px;top:560.00px;height:40.00px;line-height:40.00px;font-size:14.5px;color:#288c3a;text-align:right;">172,10 €</div>
<div class="t sl" style="right:1032.40px;top:560.00px;height:40.00px;line-height:40.00px;font-size:14.5px;color:#288c3a;text-align:right;">+0,43 %</div>
<div class="t sl" style="right:947.20px;top:560.00px;height:40.00px;line-height:40.00px;font-size:14.5px;color:#288c3a;text-align:right;">-37,60 €</div>
<div class="t sl" style="right:863.40px;top:560.00px;height:40.00px;line-height:40.00px;font-size:14.5px;color:#111111;text-align:right;">+98,6</div>
<div style="left:5.00px;top:601.00px;width:938.60px;height:41.00px;background:#d2d7de"></div>
<div style="left:494.00px;top:601.00px;width:96.00px;height:41.00px;background:#9bd49a"></div>
<div style="left:858.00px;top:601.00px;width:86.00px;height:41.00px;background:#9bd49a"></div>
<div class="t sl" style="left:5.40px;top:600.80px;height:41.00px;line-height:41.00px;font-size:14.5px;color:#111111;">04.08.2025, 17:13:00</div>
<div class="t sl" style="left:165.20px;top:600.80px;height:41.00px;line-height:41.00px;font-size:14.5px;color:#111111;">05.08.2025, 14:19:00</div>
<div class="t sl" style="left:319.00px;top:600.80px;height:41.00px;line-height:41.00px;font-size:14.5px;color:#288c3a;">Long</div>
<div class="t sl" style="right:1311.00px;top:600.80px;height:41.00px;line-height:41.00px;font-size:14.5px;color:#288c3a;text-align:right;">1.265</div>
<div class="t sl" style="right:1215.20px;top:600.80px;height:41.00px;line-height:41.00px;font-size:14.5px;color:#111111;text-align:right;">306,80 €</div>
<div class="t sl" style="right:1128.20px;top:600.80px;height:41.00px;line-height:41.00px;font-size:14.5px;color:#288c3a;text-align:right;">332,00 €</div>
<div class="t sl" style="right:1032.40px;top:600.80px;height:41.00px;line-height:41.00px;font-size:14.5px;color:#288c3a;text-align:right;">+1,34 %</div>
<div class="t sl" style="right:947.20px;top:600.80px;height:41.00px;line-height:41.00px;font-size:14.5px;color:#288c3a;text-align:right;">-34,90 €</div>
<div class="t sl" style="right:863.40px;top:600.80px;height:41.00px;line-height:41.00px;font-size:14.5px;color:#111111;text-align:right;">+306,8</div>
<div style="left:5.00px;top:642.00px;width:938.60px;height:41.00px;background:#d7e4ec"></div>
<div style="left:494.00px;top:642.00px;width:96.00px;height:41.00px;background:#9bd49a"></div>
<div style="left:858.00px;top:642.00px;width:86.00px;height:41.00px;background:#9bd49a"></div>
<div class="t sl" style="left:5.40px;top:642.20px;height:41.00px;line-height:41.00px;font-size:14.5px;color:#111111;">29.07.2025, 16:06:00</div>
<div class="t sl" style="left:165.20px;top:642.20px;height:41.00px;line-height:41.00px;font-size:14.5px;color:#111111;">31.07.2025, 16:31:00</div>
<div class="t sl" style="left:319.00px;top:642.20px;height:41.00px;line-height:41.00px;font-size:14.5px;color:#288c3a;">Long</div>
<div class="t sl" style="right:1311.00px;top:642.20px;height:41.00px;line-height:41.00px;font-size:14.5px;color:#288c3a;text-align:right;">2.899</div>
<div class="t sl" style="right:1215.20px;top:642.20px;height:41.00px;line-height:41.00px;font-size:14.5px;color:#111111;text-align:right;">205,70 €</div>
<div class="t sl" style="right:1128.20px;top:642.20px;height:41.00px;line-height:41.00px;font-size:14.5px;color:#288c3a;text-align:right;">256,70 €</div>
<div class="t sl" style="right:1032.40px;top:642.20px;height:41.00px;line-height:41.00px;font-size:14.5px;color:#288c3a;text-align:right;">+0,88 %</div>
<div class="t sl" style="right:947.20px;top:642.20px;height:41.00px;line-height:41.00px;font-size:14.5px;color:#288c3a;text-align:right;">-216,70 €</div>
<div class="t sl" style="right:863.40px;top:642.20px;height:41.00px;line-height:41.00px;font-size:14.5px;color:#111111;text-align:right;">+205,7</div>
<div style="left:5.00px;top:683.00px;width:938.60px;height:42.00px;background:#d2d7de"></div>
<div style="left:494.00px;top:683.00px;width:96.00px;height:42.00px;background:#9bd49a"></div>
<div style="left:858.00px;top:683.00px;width:86.00px;height:42.00px;background:#9bd49a"></div>
<div class="t sl" style="left:5.40px;top:683.00px;height:42.00px;line-height:42.00px;font-size:14.5px;color:#111111;">23.07.2025, 15:49:00</div>
<div class="t sl" style="left:165.20px;top:683.00px;height:42.00px;line-height:42.00px;font-size:14.5px;color:#111111;">24.07.2025, 10:11:00</div>
<div class="t sl" style="left:319.00px;top:683.00px;height:42.00px;line-height:42.00px;font-size:14.5px;color:#288c3a;">Long</div>
<div class="t sl" style="right:1311.00px;top:683.00px;height:42.00px;line-height:42.00px;font-size:14.5px;color:#288c3a;text-align:right;">1.102</div>
<div class="t sl" style="right:1215.20px;top:683.00px;height:42.00px;line-height:42.00px;font-size:14.5px;color:#111111;text-align:right;">122,20 €</div>
<div class="t sl" style="right:1128.20px;top:683.00px;height:42.00px;line-height:42.00px;font-size:14.5px;color:#288c3a;text-align:right;">155,80 €</div>
<div class="t sl" style="right:1032.40px;top:683.00px;height:42.00px;line-height:42.00px;font-size:14.5px;color:#288c3a;text-align:right;">+0,53 %</div>
<div class="t sl" style="right:947.20px;top:683.00px;height:42.00px;line-height:42.00px;font-size:14.5px;color:#288c3a;text-align:right;">-126,50 €</div>
<div class="t sl" style="right:863.40px;top:683.00px;height:42.00px;line-height:42.00px;font-size:14.5px;color:#111111;text-align:right;">+122,2</div>
<div style="left:5.00px;top:725.00px;width:938.60px;height:42.00px;background:#d7e4ec"></div>
<div style="left:494.00px;top:725.00px;width:96.00px;height:42.00px;background:#9bd49a"></div>
<div style="left:858.00px;top:725.00px;width:86.00px;height:42.00px;background:#9bd49a"></div>
<div class="t sl" style="left:5.40px;top:725.00px;height:42.00px;line-height:42.00px;font-size:14.5px;color:#111111;">21.07.2025, 16:01:00</div>
<div class="t sl" style="left:165.20px;top:725.00px;height:42.00px;line-height:42.00px;font-size:14.5px;color:#111111;">22.07.2025, 02:01:00</div>
<div class="t sl" style="left:319.00px;top:725.00px;height:42.00px;line-height:42.00px;font-size:14.5px;color:#288c3a;">Long</div>
<div class="t sl" style="right:1311.00px;top:725.00px;height:42.00px;line-height:42.00px;font-size:14.5px;color:#288c3a;text-align:right;">600</div>
<div class="t sl" style="right:1215.20px;top:725.00px;height:42.00px;line-height:42.00px;font-size:14.5px;color:#111111;text-align:right;">88,00 €</div>
<div class="t sl" style="right:1128.20px;top:725.00px;height:42.00px;line-height:42.00px;font-size:14.5px;color:#288c3a;text-align:right;">130,50 €</div>
<div class="t sl" style="right:1032.40px;top:725.00px;height:42.00px;line-height:42.00px;font-size:14.5px;color:#288c3a;text-align:right;">+0,38 %</div>
<div class="t sl" style="right:947.20px;top:725.00px;height:42.00px;line-height:42.00px;font-size:14.5px;color:#288c3a;text-align:right;">-65,80 €</div>
<div class="t sl" style="right:863.40px;top:725.00px;height:42.00px;line-height:42.00px;font-size:14.5px;color:#111111;text-align:right;">+88,0</div>
<div style="left:5.00px;top:767.00px;width:938.60px;height:41.00px;background:#d2d7de"></div>
<div style="left:494.00px;top:767.00px;width:96.00px;height:41.00px;background:#9bd49a"></div>
<div style="left:858.00px;top:767.00px;width:86.00px;height:41.00px;background:#9bd49a"></div>
<div class="t sl" style="left:5.40px;top:767.10px;height:41.00px;line-height:41.00px;font-size:14.5px;color:#111111;">15.07.2025, 15:30:00</div>
<div class="t sl" style="left:165.20px;top:767.10px;height:41.00px;line-height:41.00px;font-size:14.5px;color:#111111;">18.07.2025, 05:00:00</div>
<div class="t sl" style="left:319.00px;top:767.10px;height:41.00px;line-height:41.00px;font-size:14.5px;color:#288c3a;">Long</div>
<div class="t sl" style="right:1311.00px;top:767.10px;height:41.00px;line-height:41.00px;font-size:14.5px;color:#288c3a;text-align:right;">3.687</div>
<div class="t sl" style="right:1215.20px;top:767.10px;height:41.00px;line-height:41.00px;font-size:14.5px;color:#111111;text-align:right;">97,60 €</div>
<div class="t sl" style="right:1128.20px;top:767.10px;height:41.00px;line-height:41.00px;font-size:14.5px;color:#288c3a;text-align:right;">110,40 €</div>
<div class="t sl" style="right:1032.40px;top:767.10px;height:41.00px;line-height:41.00px;font-size:14.5px;color:#288c3a;text-align:right;">+0,42 %</div>
<div class="t sl" style="right:947.20px;top:767.10px;height:41.00px;line-height:41.00px;font-size:14.5px;color:#288c3a;text-align:right;">-316,40 €</div>
<div class="t sl" style="right:863.40px;top:767.10px;height:41.00px;line-height:41.00px;font-size:14.5px;color:#111111;text-align:right;">+97,6</div>
<div style="left:5.00px;top:808.00px;width:938.60px;height:43.00px;background:#d7e4ec"></div>
<div style="left:494.00px;top:808.00px;width:96.00px;height:43.00px;background:#9bd49a"></div>
<div style="left:858.00px;top:808.00px;width:86.00px;height:43.00px;background:#9bd49a"></div>
<div class="t sl" style="left:5.40px;top:807.80px;height:43.00px;line-height:43.00px;font-size:14.5px;color:#111111;">14.07.2025, 17:54:00</div>
<div class="t sl" style="left:165.20px;top:807.80px;height:43.00px;line-height:43.00px;font-size:14.5px;color:#111111;">15.07.2025, 05:16:00</div>
<div class="t sl" style="left:319.00px;top:807.80px;height:43.00px;line-height:43.00px;font-size:14.5px;color:#288c3a;">Long</div>
<div class="t sl" style="right:1311.00px;top:807.80px;height:43.00px;line-height:43.00px;font-size:14.5px;color:#288c3a;text-align:right;">672</div>
<div class="t sl" style="right:1215.20px;top:807.80px;height:43.00px;line-height:43.00px;font-size:14.5px;color:#111111;text-align:right;">133,30 €</div>
<div class="t sl" style="right:1128.20px;top:807.80px;height:43.00px;line-height:43.00px;font-size:14.5px;color:#288c3a;text-align:right;">180,30 €</div>
<div class="t sl" style="right:1032.40px;top:807.80px;height:43.00px;line-height:43.00px;font-size:14.5px;color:#288c3a;text-align:right;">+0,59 %</div>
<div class="t sl" style="right:947.20px;top:807.80px;height:43.00px;line-height:43.00px;font-size:14.5px;color:#288c3a;text-align:right;">-28,20 €</div>
<div class="t sl" style="right:863.40px;top:807.80px;height:43.00px;line-height:43.00px;font-size:14.5px;color:#111111;text-align:right;">+133,3</div>
<div style="left:5.00px;top:851.00px;width:938.60px;height:41.00px;background:#d2d7de"></div>
<div style="left:494.00px;top:851.00px;width:96.00px;height:41.00px;background:#9bd49a"></div>
<div style="left:858.00px;top:851.00px;width:86.00px;height:41.00px;background:#9bd49a"></div>
<div class="t sl" style="left:5.40px;top:850.40px;height:41.00px;line-height:41.00px;font-size:14.5px;color:#111111;">07.07.2025, 18:25:00</div>
<div class="t sl" style="left:165.20px;top:850.40px;height:41.00px;line-height:41.00px;font-size:14.5px;color:#111111;">09.07.2025, 21:36:00</div>
<div class="t sl" style="left:319.00px;top:850.40px;height:41.00px;line-height:41.00px;font-size:14.5px;color:#288c3a;">Long</div>
<div class="t sl" style="right:1311.00px;top:850.40px;height:41.00px;line-height:41.00px;font-size:14.5px;color:#288c3a;text-align:right;">3.054</div>
<div class="t sl" style="right:1215.20px;top:850.40px;height:41.00px;line-height:41.00px;font-size:14.5px;color:#111111;text-align:right;">15,50 €</div>
<div class="t sl" style="right:1128.20px;top:850.40px;height:41.00px;line-height:41.00px;font-size:14.5px;color:#288c3a;text-align:right;">143,60 €</div>
<div class="t sl" style="right:1032.40px;top:850.40px;height:41.00px;line-height:41.00px;font-size:14.5px;color:#288c3a;text-align:right;">+0,07 %</div>
<div class="t sl" style="right:947.20px;top:850.40px;height:41.00px;line-height:41.00px;font-size:14.5px;color:#288c3a;text-align:right;">-178,60 €</div>
<div class="t sl" style="right:863.40px;top:850.40px;height:41.00px;line-height:41.00px;font-size:14.5px;color:#111111;text-align:right;">+15,5</div>
<div style="left:5.00px;top:892.00px;width:938.60px;height:43.00px;background:#d7e4ec"></div>
<div style="left:494.00px;top:892.00px;width:96.00px;height:43.00px;background:#9bd49a"></div>
<div style="left:858.00px;top:892.00px;width:86.00px;height:43.00px;background:#9bd49a"></div>
<div class="t sl" style="left:5.40px;top:891.40px;height:43.00px;line-height:43.00px;font-size:14.5px;color:#111111;">03.07.2025, 15:38:00</div>
<div class="t sl" style="left:165.20px;top:891.40px;height:43.00px;line-height:43.00px;font-size:14.5px;color:#111111;">04.07.2025, 07:01:00</div>
<div class="t sl" style="left:319.00px;top:891.40px;height:43.00px;line-height:43.00px;font-size:14.5px;color:#288c3a;">Long</div>
<div class="t sl" style="right:1311.00px;top:891.40px;height:43.00px;line-height:43.00px;font-size:14.5px;color:#288c3a;text-align:right;">779</div>
<div class="t sl" style="right:1215.20px;top:891.40px;height:43.00px;line-height:43.00px;font-size:14.5px;color:#111111;text-align:right;">133,50 €</div>
<div class="t sl" style="right:1128.20px;top:891.40px;height:43.00px;line-height:43.00px;font-size:14.5px;color:#288c3a;text-align:right;">207,80 €</div>
<div class="t sl" style="right:1032.40px;top:891.40px;height:43.00px;line-height:43.00px;font-size:14.5px;color:#288c3a;text-align:right;">+0,59 %</div>
<div class="t sl" style="right:947.20px;top:891.40px;height:43.00px;line-height:43.00px;font-size:14.5px;color:#288c3a;text-align:right;">-56,80 €</div>
<div class="t sl" style="right:863.40px;top:891.40px;height:43.00px;line-height:43.00px;font-size:14.5px;color:#111111;text-align:right;">+133,5</div>
<div style="left:5.00px;top:70.00px;width:938.60px;height:1.00px;background:#dcedf8"></div>
<div style="left:164.00px;top:70.00px;width:1.00px;height:864.00px;background:#a6b4be"></div>
<div style="left:317.00px;top:70.00px;width:1.00px;height:864.00px;background:#a6b4be"></div>
<div style="left:412.00px;top:70.00px;width:1.00px;height:864.00px;background:#a6b4be"></div>
<div style="left:677.00px;top:70.00px;width:1.00px;height:864.00px;background:#a6b4be"></div>
<div style="left:773.00px;top:70.00px;width:1.00px;height:864.00px;background:#a6b4be"></div>
<div style="left:318.00px;top:70.00px;width:1.00px;height:864.00px;background:#f6fafb"></div>
<div style="left:678.00px;top:70.00px;width:1.00px;height:864.00px;background:#f6fafb"></div>
<div style="left:774.00px;top:70.00px;width:1.00px;height:864.00px;background:#f6fafb"></div>
<div style="left:5.00px;top:274.00px;width:938.60px;height:1.00px;background:#f4f8fa"></div>
<div style="left:5.00px;top:315.00px;width:938.60px;height:1.00px;background:#f4f8fa"></div>
<div style="left:5.00px;top:560.00px;width:938.60px;height:1.00px;background:#f4f8fa"></div>
<div style="left:494.00px;top:192.00px;width:95.00px;height:1.00px;background:#e8fae8"></div>
<div style="left:858.00px;top:192.00px;width:86.00px;height:1.00px;background:#e8fae8"></div>
<div style="left:494.00px;top:479.00px;width:95.00px;height:1.00px;background:#e8fae8"></div>
<div style="left:858.00px;top:479.00px;width:86.00px;height:1.00px;background:#e8fae8"></div>
<div style="left:494.00px;top:70.00px;width:1.00px;height:864.00px;background:rgba(120,150,140,0.35)"></div>
<div style="left:588.00px;top:70.00px;width:2.00px;height:864.00px;background:rgba(130,160,150,0.35)"></div>
<div style="left:590.00px;top:70.00px;width:1.00px;height:864.00px;background:rgba(255,255,255,0.25)"></div>
<div style="left:858.00px;top:70.00px;width:1.00px;height:864.00px;background:rgba(120,150,140,0.25)"></div>
<div style="left:5.00px;top:935.00px;width:938.60px;height:1.00px;background:#7890a0"></div>
<div style="left:5.00px;top:936.00px;width:938.60px;height:1.00px;background:#d6ecf4"></div>
<div style="left:5.00px;top:937.00px;width:938.60px;height:21.00px;background:linear-gradient(#a4c0cc,#b6d2de 35%,#c6e0ec 75%,#d0eaf4)"></div>
<div style="left:5.00px;top:958.00px;width:938.60px;height:1.00px;background:#557080"></div>
<div class="t" style="left:7.7px;top:940.0px;font-size:14.6px;line-height:19px;color:#111">Die obere Statistik basiert auf Daten aus der Vergangenheit. Frühere Performance gibt keinen Hinweis auf zukünftige Ergebnisse.</div>
<div style="left:3.90px;top:0.00px;width:1.20px;height:962.00px;background:#3f5360"></div>
<div style="left:943.20px;top:0.00px;width:1.00px;height:962.00px;background:#6b8594"></div>
<div style="left:948.80px;top:0.00px;width:850.40px;height:39.50px;background:linear-gradient(#b8d7e5,#a9c9d7 50%,#9fbecc)"></div>
<div style="left:961.60px;top:-20.00px;width:207.60px;height:21.00px;background:linear-gradient(#ffffff,#ececec);border:1px solid #7f98a6;border-radius:2px;box-sizing:border-box"></div>
<div style="left:1182.00px;top:0.00px;width:1.00px;height:39.50px;background:#87a6b5"></div>
<div style="left:1396.00px;top:0.00px;width:1.00px;height:39.50px;background:#87a6b5"></div>
<div style="left:1365.00px;top:-10.00px;width:17.00px;height:11.00px;background:#fafafa;border:1px solid #8a96a0;box-sizing:border-box"></div>
<div style="left:1194.40px;top:9.30px;width:189.30px;height:17.20px;background:linear-gradient(#ffffff,#f0f0f0);border:1px solid #72909c;border-radius:3px;box-sizing:border-box"></div>
<div class="t" style="left:1199.4px;top:9.4px;font-size:13px;line-height:17px;color:#111">Alle Positionen</div>
<svg style="left:1371.5px;top:15.8px;width:8px;height:5px" viewBox="0 0 8 5"><path d="M1 1 L4.0 3.9 L7 1" fill="none" stroke="#111" stroke-width="2"/></svg>
<div class="t" style="left:1407.6px;top:1.6px;font-size:13px;line-height:16px;color:#111">Aktuell:</div>
<div class="t" style="left:1482.5px;top:1.6px;font-size:13px;line-height:16px;color:#111">17.09.2025, 09:56:00</div>
<div class="t" style="left:1610.8px;top:1.6px;font-size:13px;line-height:16px;color:#111;font-weight:bold">[147.610,00 $]</div>
<div class="t" style="left:1610.8px;top:-14.6px;font-size:13px;line-height:16px;color:#111;font-weight:bold">[10.000,00 $]</div>
<div class="t" style="left:1407.6px;top:-14.6px;font-size:13px;line-height:16px;color:#111">Startdatum:</div>
<div class="t" style="left:1482.5px;top:-14.6px;font-size:13px;line-height:16px;color:#111">01.07.2025, 03:00:00</div>
<div style="left:948.80px;top:39.30px;width:850.40px;height:1.00px;background:#6d8a9b"></div>
<div style="left:948.80px;top:40.30px;width:850.40px;height:0.90px;background:#b4cfdc"></div>
<div style="left:948.80px;top:41.00px;width:850.40px;height:16.00px;background:#426790"></div>
<div style="left:948.80px;top:57.00px;width:850.40px;height:1.00px;background:#4a6482"></div>
<svg style="left:950.2px;top:42.2px;width:14.0px;height:14.0px" viewBox="0 0 14 14"><path d="M2.4 12.0 L7.4 6.8" stroke="#e6eefa" stroke-width="3.0" stroke-linecap="round" fill="none"/><path d="M5.1 1.7 Q5.3 1.0 6.0 1.0 L9.9 1.0 L9.9 4.2 L13.0 4.2 L13.0 8.6 L7.4 8.6 L5.1 6.6 Z" fill="#e6eefa"/></svg>
<svg style="left:988.6px;top:46.3px;width:9px;height:5.8px" viewBox="0 0 9 5.8"><path d="M0.7 0.8 L8.3 0.8 L4.5 5.2 Z" fill="none" stroke="#e6eefa" stroke-width="1.3" stroke-linejoin="miter"/></svg>
<div class="t" style="left:1002.30px;top:37.50px;height:20.00px;line-height:20.00px;font-size:13.2px;color:#f2f6fa;">Startdatum</div>
<div class="t" style="left:1087.50px;width:119.10px;top:37.50px;height:20.00px;line-height:20.00px;font-size:13.2px;color:#f2f6fa;text-align:center;">Schlussdatum</div>
<div class="t" style="left:1206.60px;width:93.50px;top:37.50px;height:20.00px;line-height:20.00px;font-size:13.2px;color:#f2f6fa;text-align:center;">Typ</div>
<div class="t" style="left:1300.10px;width:100.40px;top:37.50px;height:20.00px;line-height:20.00px;font-size:13.2px;color:#f2f6fa;text-align:center;">Anz. Balken</div>
<div class="t" style="left:1400.50px;width:96.80px;top:37.50px;height:20.00px;line-height:20.00px;font-size:13.2px;color:#f2f6fa;text-align:center;">Abs Perf</div>
<div class="t" style="left:1497.30px;width:90.00px;top:37.50px;height:20.00px;line-height:20.00px;font-size:13.2px;color:#f2f6fa;text-align:center;">MFE</div>
<div class="t" style="left:1587.30px;width:85.00px;top:37.50px;height:20.00px;line-height:20.00px;font-size:13.2px;color:#f2f6fa;text-align:center;">MAE</div>
<div class="t" style="left:1674.60px;top:37.50px;height:20.00px;line-height:20.00px;font-size:13.2px;color:#f2f6fa;">Einheits…</div>
<div class="t" style="left:1738.60px;top:37.50px;height:20.00px;line-height:20.00px;font-size:13.2px;color:#f2f6fa;">Relat P…</div>
<div style="left:1087.50px;top:41.00px;width:1.00px;height:16.00px;background:rgba(210,225,235,0.18)"></div>
<div style="left:1087.00px;top:45.30px;width:1.20px;height:7.90px;background:#dfe8f2"></div>
<div style="left:1206.50px;top:41.00px;width:1.00px;height:16.00px;background:rgba(210,225,235,0.18)"></div>
<div style="left:1206.10px;top:45.30px;width:1.20px;height:7.90px;background:#dfe8f2"></div>
<div style="left:1299.50px;top:41.00px;width:1.00px;height:16.00px;background:rgba(210,225,235,0.18)"></div>
<div style="left:1299.60px;top:45.30px;width:1.20px;height:7.90px;background:#dfe8f2"></div>
<div style="left:1399.50px;top:41.00px;width:1.00px;height:16.00px;background:rgba(210,225,235,0.18)"></div>
<div style="left:1400.00px;top:45.30px;width:1.20px;height:7.90px;background:#dfe8f2"></div>
<div style="left:1496.50px;top:41.00px;width:1.00px;height:16.00px;background:rgba(210,225,235,0.18)"></div>
<div style="left:1496.80px;top:45.30px;width:1.20px;height:7.90px;background:#dfe8f2"></div>
<div style="left:1586.50px;top:41.00px;width:1.00px;height:16.00px;background:rgba(210,225,235,0.18)"></div>
<div style="left:1586.80px;top:45.30px;width:1.20px;height:7.90px;background:#dfe8f2"></div>
<div style="left:1671.50px;top:41.00px;width:1.00px;height:16.00px;background:rgba(210,225,235,0.18)"></div>
<div style="left:1671.80px;top:45.30px;width:1.20px;height:7.90px;background:#dfe8f2"></div>
<div style="left:1734.50px;top:41.00px;width:1.00px;height:16.00px;background:rgba(210,225,235,0.18)"></div>
<div style="left:1734.90px;top:45.30px;width:1.20px;height:7.90px;background:#dfe8f2"></div>
<div style="left:948.80px;top:58.00px;width:850.40px;height:46.00px;background:#d7e4ec"></div>
<div style="left:1400.00px;top:58.00px;width:98.00px;height:46.00px;background:#9bd49a"></div>
<div style="left:1672.00px;top:58.00px;width:63.00px;height:46.00px;background:#de9898"></div>
<div class="t sr" style="left:949.80px;top:58.20px;height:46.00px;line-height:46.00px;font-size:12.85px;color:#111111;">15.09.2025, 17:38:00</div>
<div class="t sr" style="left:1088.40px;top:58.20px;height:46.00px;line-height:46.00px;font-size:12.85px;color:#111111;">16.09.2025, 18:59…</div>
<div class="t sr" style="left:1207.30px;top:58.20px;height:46.00px;line-height:46.00px;font-size:12.85px;color:#288c3a;">Long</div>
<div class="t sr" style="right:405.00px;top:58.20px;height:46.00px;line-height:46.00px;font-size:12.85px;color:#288c3a;text-align:right;">1.217</div>
<div class="t sr" style="right:307.60px;top:58.20px;height:46.00px;line-height:46.00px;font-size:12.85px;color:#111111;text-align:right;">8.550,00 $</div>
<div class="t sr" style="right:218.40px;top:58.20px;height:46.00px;line-height:46.00px;font-size:12.85px;color:#288c3a;text-align:right;">14.790,00 $</div>
<div class="t sr" style="right:133.00px;top:58.20px;height:46.00px;line-height:46.00px;font-size:12.85px;color:#288c3a;text-align:right;">-1.270,00 $</div>
<div class="t sr" style="left:1675.00px;top:58.20px;height:46.00px;line-height:46.00px;font-size:12.85px;color:#111111;">-2.399.8…</div>
<div class="t sr" style="right:7.40px;top:58.20px;height:46.00px;line-height:46.00px;font-size:12.85px;color:#288c3a;text-align:right;">+0,35 %</div>
<div style="left:948.80px;top:104.00px;width:850.40px;height:46.00px;background:#d2d7de"></div>
<div style="left:1400.00px;top:104.00px;width:98.00px;height:46.00px;background:#9bd49a"></div>
<div style="left:1672.00px;top:104.00px;width:63.00px;height:46.00px;background:#de9898"></div>
<div class="t sr" style="left:949.80px;top:104.20px;height:46.00px;line-height:46.00px;font-size:12.85px;color:#111111;">11.09.2025, 16:36:00</div>
<div class="t sr" style="left:1088.40px;top:104.20px;height:46.00px;line-height:46.00px;font-size:12.85px;color:#111111;">12.09.2025, 21:42…</div>
<div class="t sr" style="left:1207.30px;top:104.20px;height:46.00px;line-height:46.00px;font-size:12.85px;color:#288c3a;">Long</div>
<div class="t sr" style="right:405.00px;top:104.20px;height:46.00px;line-height:46.00px;font-size:12.85px;color:#288c3a;text-align:right;">1.745</div>
<div class="t sr" style="right:307.60px;top:104.20px;height:46.00px;line-height:46.00px;font-size:12.85px;color:#111111;text-align:right;">8.700,00 $</div>
<div class="t sr" style="right:218.40px;top:104.20px;height:46.00px;line-height:46.00px;font-size:12.85px;color:#288c3a;text-align:right;">15.690,00 $</div>
<div class="t sr" style="right:133.00px;top:104.20px;height:46.00px;line-height:46.00px;font-size:12.85px;color:#288c3a;text-align:right;">-2.860,00 $</div>
<div class="t sr" style="left:1675.00px;top:104.20px;height:46.00px;line-height:46.00px;font-size:12.85px;color:#111111;">-2.373.8…</div>
<div class="t sr" style="right:7.40px;top:104.20px;height:46.00px;line-height:46.00px;font-size:12.85px;color:#288c3a;text-align:right;">+0,36 %</div>
<div style="left:948.80px;top:150.00px;width:850.40px;height:47.00px;background:#d7e4ec"></div>
<div style="left:1400.00px;top:150.00px;width:98.00px;height:47.00px;background:#9bd49a"></div>
<div style="left:1672.00px;top:150.00px;width:63.00px;height:47.00px;background:#de9898"></div>
<div class="t sr" style="left:949.80px;top:149.20px;height:47.00px;line-height:47.00px;font-size:12.85px;color:#111111;">08.09.2025, 16:31:00</div>
<div class="t sr" style="left:1088.40px;top:149.20px;height:47.00px;line-height:47.00px;font-size:12.85px;color:#111111;">10.09.2025, 18:02…</div>
<div class="t sr" style="left:1207.30px;top:149.20px;height:47.00px;line-height:47.00px;font-size:12.85px;color:#288c3a;">Long</div>
<div class="t sr" style="right:405.00px;top:149.20px;height:47.00px;line-height:47.00px;font-size:12.85px;color:#288c3a;text-align:right;">2.963</div>
<div class="t sr" style="right:307.60px;top:149.20px;height:47.00px;line-height:47.00px;font-size:12.85px;color:#111111;text-align:right;">6.400,00 $</div>
<div class="t sr" style="right:218.40px;top:149.20px;height:47.00px;line-height:47.00px;font-size:12.85px;color:#288c3a;text-align:right;">15.630,00 $</div>
<div class="t sr" style="right:133.00px;top:149.20px;height:47.00px;line-height:47.00px;font-size:12.85px;color:#288c3a;text-align:right;">-13.590,00 $</div>
<div class="t sr" style="left:1675.00px;top:149.20px;height:47.00px;line-height:47.00px;font-size:12.85px;color:#111111;">-2.359.5…</div>
<div class="t sr" style="right:7.40px;top:149.20px;height:47.00px;line-height:47.00px;font-size:12.85px;color:#288c3a;text-align:right;">+0,27 %</div>
<div style="left:948.80px;top:197.00px;width:850.40px;height:46.00px;background:#d2d7de"></div>
<div style="left:1400.00px;top:197.00px;width:98.00px;height:46.00px;background:#9bd49a"></div>
<div style="left:1672.00px;top:197.00px;width:63.00px;height:46.00px;background:#de9898"></div>
<div class="t sr" style="left:949.80px;top:196.90px;height:46.00px;line-height:46.00px;font-size:12.85px;color:#111111;">04.09.2025, 17:55:00</div>
<div class="t sr" style="left:1088.40px;top:196.90px;height:46.00px;line-height:46.00px;font-size:12.85px;color:#111111;">05.09.2025, 09:08…</div>
<div class="t sr" style="left:1207.30px;top:196.90px;height:46.00px;line-height:46.00px;font-size:12.85px;color:#288c3a;">Long</div>
<div class="t sr" style="right:405.00px;top:196.90px;height:46.00px;line-height:46.00px;font-size:12.85px;color:#288c3a;text-align:right;">913</div>
<div class="t sr" style="right:307.60px;top:196.90px;height:46.00px;line-height:46.00px;font-size:12.85px;color:#111111;text-align:right;">19.990,00 $</div>
<div class="t sr" style="right:218.40px;top:196.90px;height:46.00px;line-height:46.00px;font-size:12.85px;color:#288c3a;text-align:right;">24.230,00 $</div>
<div class="t sr" style="right:133.00px;top:196.90px;height:46.00px;line-height:46.00px;font-size:12.85px;color:#288c3a;text-align:right;">-3.660,00 $</div>
<div class="t sr" style="left:1675.00px;top:196.90px;height:46.00px;line-height:46.00px;font-size:12.85px;color:#111111;">-2.327.0…</div>
<div class="t sr" style="right:7.40px;top:196.90px;height:46.00px;line-height:46.00px;font-size:12.85px;color:#288c3a;text-align:right;">+0,85 %</div>
<div style="left:948.80px;top:243.00px;width:850.40px;height:47.00px;background:#d7e4ec"></div>
<div style="left:1400.00px;top:243.00px;width:98.00px;height:47.00px;background:#9bd49a"></div>
<div style="left:1672.00px;top:243.00px;width:63.00px;height:47.00px;background:#de9898"></div>
<div class="t sr" style="left:949.80px;top:242.60px;height:47.00px;line-height:47.00px;font-size:12.85px;color:#111111;">03.09.2025, 16:05:00</div>
<div class="t sr" style="left:1088.40px;top:242.60px;height:47.00px;line-height:47.00px;font-size:12.85px;color:#111111;">04.09.2025, 16:03…</div>
<div class="t sr" style="left:1207.30px;top:242.60px;height:47.00px;line-height:47.00px;font-size:12.85px;color:#288c3a;">Long</div>
<div class="t sr" style="right:405.00px;top:242.60px;height:47.00px;line-height:47.00px;font-size:12.85px;color:#288c3a;text-align:right;">1.433</div>
<div class="t sr" style="right:307.60px;top:242.60px;height:47.00px;line-height:47.00px;font-size:12.85px;color:#111111;text-align:right;">850,00 $</div>
<div class="t sr" style="right:218.40px;top:242.60px;height:47.00px;line-height:47.00px;font-size:12.85px;color:#288c3a;text-align:right;">9.650,00 $</div>
<div class="t sr" style="right:133.00px;top:242.60px;height:47.00px;line-height:47.00px;font-size:12.85px;color:#288c3a;text-align:right;">-11.400,00 $</div>
<div class="t sr" style="left:1675.00px;top:242.60px;height:47.00px;line-height:47.00px;font-size:12.85px;color:#111111;">-2.316.0…</div>
<div class="t sr" style="right:7.40px;top:242.60px;height:47.00px;line-height:47.00px;font-size:12.85px;color:#288c3a;text-align:right;">+0,04 %</div>
<div style="left:948.80px;top:290.00px;width:850.40px;height:46.00px;background:#d2d7de"></div>
<div style="left:1400.00px;top:290.00px;width:98.00px;height:46.00px;background:#de9898"></div>
<div style="left:1672.00px;top:290.00px;width:63.00px;height:46.00px;background:#de9898"></div>
<div class="t sr" style="left:949.80px;top:290.30px;height:46.00px;line-height:46.00px;font-size:12.85px;color:#111111;">28.08.2025, 18:07:00</div>
<div class="t sr" style="left:1088.40px;top:290.30px;height:46.00px;line-height:46.00px;font-size:12.85px;color:#111111;">02.09.2025, 09:50…</div>
<div class="t sr" style="left:1207.30px;top:290.30px;height:46.00px;line-height:46.00px;font-size:12.85px;color:#288c3a;">Long</div>
<div class="t sr" style="right:405.00px;top:290.30px;height:46.00px;line-height:46.00px;font-size:12.85px;color:#9e1a1e;text-align:right;">3.547</div>
<div class="t sr" style="right:307.60px;top:290.30px;height:46.00px;line-height:46.00px;font-size:12.85px;color:#111111;text-align:right;">-37.830,00 $</div>
<div class="t sr" style="right:218.40px;top:290.30px;height:46.00px;line-height:46.00px;font-size:12.85px;color:#9e1a1e;text-align:right;">9.950,00 $</div>
<div class="t sr" style="right:133.00px;top:290.30px;height:46.00px;line-height:46.00px;font-size:12.85px;color:#9e1a1e;text-align:right;">-37.830,00 $</div>
<div class="t sr" style="left:1675.00px;top:290.30px;height:46.00px;line-height:46.00px;font-size:12.85px;color:#111111;">-2.340.6…</div>
<div class="t sr" style="right:7.40px;top:290.30px;height:46.00px;line-height:46.00px;font-size:12.85px;color:#9e1a1e;text-align:right;">-1,60 %</div>
<div style="left:948.80px;top:336.00px;width:850.40px;height:46.00px;background:#d7e4ec"></div>
<div style="left:1400.00px;top:336.00px;width:98.00px;height:46.00px;background:#9bd49a"></div>
<div style="left:1672.00px;top:336.00px;width:63.00px;height:46.00px;background:#de9898"></div>
<div class="t sr" style="left:949.80px;top:336.40px;height:46.00px;line-height:46.00px;font-size:12.85px;color:#111111;">22.08.2025, 17:37:00</div>
<div class="t sr" style="left:1088.40px;top:336.40px;height:46.00px;line-height:46.00px;font-size:12.85px;color:#111111;">28.08.2025, 15:50…</div>
<div class="t sr" style="left:1207.30px;top:336.40px;height:46.00px;line-height:46.00px;font-size:12.85px;color:#288c3a;">Long</div>
<div class="t sr" style="right:405.00px;top:336.40px;height:46.00px;line-height:46.00px;font-size:12.85px;color:#288c3a;text-align:right;">5.584</div>
<div class="t sr" style="right:307.60px;top:336.40px;height:46.00px;line-height:46.00px;font-size:12.85px;color:#111111;text-align:right;">590,00 $</div>
<div class="t sr" style="right:218.40px;top:336.40px;height:46.00px;line-height:46.00px;font-size:12.85px;color:#288c3a;text-align:right;">12.060,00 $</div>
<div class="t sr" style="right:133.00px;top:336.40px;height:46.00px;line-height:46.00px;font-size:12.85px;color:#288c3a;text-align:right;">-25.130,00 $</div>
<div class="t sr" style="left:1675.00px;top:336.40px;height:46.00px;line-height:46.00px;font-size:12.85px;color:#111111;">-2.332.6…</div>
<div class="t sr" style="right:7.40px;top:336.40px;height:46.00px;line-height:46.00px;font-size:12.85px;color:#288c3a;text-align:right;">+0,03 %</div>
<div style="left:948.80px;top:382.00px;width:850.40px;height:47.00px;background:#d2d7de"></div>
<div style="left:1400.00px;top:382.00px;width:98.00px;height:47.00px;background:#9bd49a"></div>
<div style="left:1672.00px;top:382.00px;width:63.00px;height:47.00px;background:#de9898"></div>
<div class="t sr" style="left:949.80px;top:381.20px;height:47.00px;line-height:47.00px;font-size:12.85px;color:#111111;">12.08.2025, 15:35:00</div>
<div class="t sr" style="left:1088.40px;top:381.20px;height:47.00px;line-height:47.00px;font-size:12.85px;color:#111111;">13.08.2025, 03:23…</div>
<div class="t sr" style="left:1207.30px;top:381.20px;height:47.00px;line-height:47.00px;font-size:12.85px;color:#288c3a;">Long</div>
<div class="t sr" style="right:405.00px;top:381.20px;height:47.00px;line-height:47.00px;font-size:12.85px;color:#288c3a;text-align:right;">706</div>
<div class="t sr" style="right:307.60px;top:381.20px;height:47.00px;line-height:47.00px;font-size:12.85px;color:#111111;text-align:right;">15.400,00 $</div>
<div class="t sr" style="right:218.40px;top:381.20px;height:47.00px;line-height:47.00px;font-size:12.85px;color:#288c3a;text-align:right;">18.290,00 $</div>
<div class="t sr" style="right:133.00px;top:381.20px;height:47.00px;line-height:47.00px;font-size:12.85px;color:#288c3a;text-align:right;">-15.210,00 $</div>
<div class="t sr" style="left:1675.00px;top:381.20px;height:47.00px;line-height:47.00px;font-size:12.85px;color:#111111;">-2.344.2…</div>
<div class="t sr" style="right:7.40px;top:381.20px;height:47.00px;line-height:47.00px;font-size:12.85px;color:#288c3a;text-align:right;">+0,65 %</div>
<div style="left:948.80px;top:429.00px;width:850.40px;height:46.00px;background:#d7e4ec"></div>
<div style="left:1400.00px;top:429.00px;width:98.00px;height:46.00px;background:#9bd49a"></div>
<div style="left:1672.00px;top:429.00px;width:63.00px;height:46.00px;background:#de9898"></div>
<div class="t sr" style="left:949.80px;top:428.60px;height:46.00px;line-height:46.00px;font-size:12.85px;color:#111111;">07.08.2025, 15:41:00</div>
<div class="t sr" style="left:1088.40px;top:428.60px;height:46.00px;line-height:46.00px;font-size:12.85px;color:#111111;">11.08.2025, 05:46…</div>
<div class="t sr" style="left:1207.30px;top:428.60px;height:46.00px;line-height:46.00px;font-size:12.85px;color:#288c3a;">Long</div>
<div class="t sr" style="right:405.00px;top:428.60px;height:46.00px;line-height:46.00px;font-size:12.85px;color:#288c3a;text-align:right;">2.225</div>
<div class="t sr" style="right:307.60px;top:428.60px;height:46.00px;line-height:46.00px;font-size:12.85px;color:#111111;text-align:right;">11.860,00 $</div>
<div class="t sr" style="right:218.40px;top:428.60px;height:46.00px;line-height:46.00px;font-size:12.85px;color:#288c3a;text-align:right;">13.800,00 $</div>
<div class="t sr" style="right:133.00px;top:428.60px;height:46.00px;line-height:46.00px;font-size:12.85px;color:#288c3a;text-align:right;">-30.060,00 $</div>
<div class="t sr" style="left:1675.00px;top:428.60px;height:46.00px;line-height:46.00px;font-size:12.85px;color:#111111;">-2.329.1…</div>
<div class="t sr" style="right:7.40px;top:428.60px;height:46.00px;line-height:46.00px;font-size:12.85px;color:#288c3a;text-align:right;">+0,50 %</div>
<div style="left:948.80px;top:475.00px;width:850.40px;height:47.00px;background:#d2d7de"></div>
<div style="left:1400.00px;top:475.00px;width:98.00px;height:47.00px;background:#9bd49a"></div>
<div style="left:1672.00px;top:475.00px;width:63.00px;height:47.00px;background:#de9898"></div>
<div class="t sr" style="left:949.80px;top:473.90px;height:47.00px;line-height:47.00px;font-size:12.85px;color:#111111;">06.08.2025, 16:46:00</div>
<div class="t sr" style="left:1088.40px;top:473.90px;height:47.00px;line-height:47.00px;font-size:12.85px;color:#111111;">06.08.2025, 23:28…</div>
<div class="t sr" style="left:1207.30px;top:473.90px;height:47.00px;line-height:47.00px;font-size:12.85px;color:#288c3a;">Long</div>
<div class="t sr" style="right:405.00px;top:473.90px;height:47.00px;line-height:47.00px;font-size:12.85px;color:#288c3a;text-align:right;">402</div>
<div class="t sr" style="right:307.60px;top:473.90px;height:47.00px;line-height:47.00px;font-size:12.85px;color:#111111;text-align:right;">9.860,00 $</div>
<div class="t sr" style="right:218.40px;top:473.90px;height:47.00px;line-height:47.00px;font-size:12.85px;color:#288c3a;text-align:right;">17.220,00 $</div>
<div class="t sr" style="right:133.00px;top:473.90px;height:47.00px;line-height:47.00px;font-size:12.85px;color:#288c3a;text-align:right;">-3.760,00 $</div>
<div class="t sr" style="left:1675.00px;top:473.90px;height:47.00px;line-height:47.00px;font-size:12.85px;color:#111111;">-2.292.2…</div>
<div class="t sr" style="right:7.40px;top:473.90px;height:47.00px;line-height:47.00px;font-size:12.85px;color:#288c3a;text-align:right;">+0,43 %</div>
<div style="left:948.80px;top:522.00px;width:850.40px;height:46.00px;background:#d7e4ec"></div>
<div style="left:1400.00px;top:522.00px;width:98.00px;height:46.00px;background:#9bd49a"></div>
<div style="left:1672.00px;top:522.00px;width:63.00px;height:46.00px;background:#de9898"></div>
<div class="t sr" style="left:949.80px;top:521.30px;height:46.00px;line-height:46.00px;font-size:12.85px;color:#111111;">04.08.2025, 17:25:00</div>
<div class="t sr" style="left:1088.40px;top:521.30px;height:46.00px;line-height:46.00px;font-size:12.85px;color:#111111;">05.08.2025, 05:20…</div>
<div class="t sr" style="left:1207.30px;top:521.30px;height:46.00px;line-height:46.00px;font-size:12.85px;color:#288c3a;">Long</div>
<div class="t sr" style="right:405.00px;top:521.30px;height:46.00px;line-height:46.00px;font-size:12.85px;color:#288c3a;text-align:right;">715</div>
<div class="t sr" style="right:307.60px;top:521.30px;height:46.00px;line-height:46.00px;font-size:12.85px;color:#111111;text-align:right;">12.690,00 $</div>
<div class="t sr" style="right:218.40px;top:521.30px;height:46.00px;line-height:46.00px;font-size:12.85px;color:#288c3a;text-align:right;">16.620,00 $</div>
<div class="t sr" style="right:133.00px;top:521.30px;height:46.00px;line-height:46.00px;font-size:12.85px;color:#288c3a;text-align:right;">-820,00 $</div>
<div class="t sr" style="left:1675.00px;top:521.30px;height:46.00px;line-height:46.00px;font-size:12.85px;color:#111111;">-2.286.0…</div>
<div class="t sr" style="right:7.40px;top:521.30px;height:46.00px;line-height:46.00px;font-size:12.85px;color:#288c3a;text-align:right;">+0,55 %</div>
<div style="left:948.80px;top:568.00px;width:850.40px;height:46.00px;background:#d2d7de"></div>
<div style="left:1400.00px;top:568.00px;width:98.00px;height:46.00px;background:#9bd49a"></div>
<div style="left:1672.00px;top:568.00px;width:63.00px;height:46.00px;background:#de9898"></div>
<div class="t sr" style="left:949.80px;top:567.90px;height:46.00px;line-height:46.00px;font-size:12.85px;color:#111111;">30.07.2025, 16:19:00</div>
<div class="t sr" style="left:1088.40px;top:567.90px;height:46.00px;line-height:46.00px;font-size:12.85px;color:#111111;">30.07.2025, 22:03…</div>
<div class="t sr" style="left:1207.30px;top:567.90px;height:46.00px;line-height:46.00px;font-size:12.85px;color:#288c3a;">Long</div>
<div class="t sr" style="right:405.00px;top:567.90px;height:46.00px;line-height:46.00px;font-size:12.85px;color:#288c3a;text-align:right;">344</div>
<div class="t sr" style="right:307.60px;top:567.90px;height:46.00px;line-height:46.00px;font-size:12.85px;color:#111111;text-align:right;">7.260,00 $</div>
<div class="t sr" style="right:218.40px;top:567.90px;height:46.00px;line-height:46.00px;font-size:12.85px;color:#288c3a;text-align:right;">9.270,00 $</div>
<div class="t sr" style="right:133.00px;top:567.90px;height:46.00px;line-height:46.00px;font-size:12.85px;color:#288c3a;text-align:right;">-11.870,00 $</div>
<div class="t sr" style="left:1675.00px;top:567.90px;height:46.00px;line-height:46.00px;font-size:12.85px;color:#111111;">-2.311.9…</div>
<div class="t sr" style="right:7.40px;top:567.90px;height:46.00px;line-height:46.00px;font-size:12.85px;color:#288c3a;text-align:right;">+0,31 %</div>
<div style="left:948.80px;top:614.00px;width:850.40px;height:47.00px;background:#d7e4ec"></div>
<div style="left:1400.00px;top:614.00px;width:98.00px;height:47.00px;background:#9bd49a"></div>
<div style="left:1672.00px;top:614.00px;width:63.00px;height:47.00px;background:#de9898"></div>
<div class="t sr" style="left:949.80px;top:613.60px;height:47.00px;line-height:47.00px;font-size:12.85px;color:#111111;">21.07.2025, 17:25:00</div>
<div class="t sr" style="left:1088.40px;top:613.60px;height:47.00px;line-height:47.00px;font-size:12.85px;color:#111111;">28.07.2025, 09:30…</div>
<div class="t sr" style="left:1207.30px;top:613.60px;height:47.00px;line-height:47.00px;font-size:12.85px;color:#288c3a;">Long</div>
<div class="t sr" style="right:405.00px;top:613.60px;height:47.00px;line-height:47.00px;font-size:12.85px;color:#288c3a;text-align:right;">6.651</div>
<div class="t sr" style="right:307.60px;top:613.60px;height:47.00px;line-height:47.00px;font-size:12.85px;color:#111111;text-align:right;">16.720,00 $</div>
<div class="t sr" style="right:218.40px;top:613.60px;height:47.00px;line-height:47.00px;font-size:12.85px;color:#288c3a;text-align:right;">20.810,00 $</div>
<div class="t sr" style="right:133.00px;top:613.60px;height:47.00px;line-height:47.00px;font-size:12.85px;color:#288c3a;text-align:right;">-27.050,00 $</div>
<div class="t sr" style="left:1675.00px;top:613.60px;height:47.00px;line-height:47.00px;font-size:12.85px;color:#111111;">-2.299.9…</div>
<div class="t sr" style="right:7.40px;top:613.60px;height:47.00px;line-height:47.00px;font-size:12.85px;color:#288c3a;text-align:right;">+0,72 %</div>
<div style="left:948.80px;top:661.00px;width:850.40px;height:46.00px;background:#d2d7de"></div>
<div style="left:1400.00px;top:661.00px;width:98.00px;height:46.00px;background:#9bd49a"></div>
<div style="left:1672.00px;top:661.00px;width:63.00px;height:46.00px;background:#de9898"></div>
<div class="t sr" style="left:949.80px;top:661.20px;height:46.00px;line-height:46.00px;font-size:12.85px;color:#111111;">17.07.2025, 16:37:00</div>
<div class="t sr" style="left:1088.40px;top:661.20px;height:46.00px;line-height:46.00px;font-size:12.85px;color:#111111;">18.07.2025, 08:27…</div>
<div class="t sr" style="left:1207.30px;top:661.20px;height:46.00px;line-height:46.00px;font-size:12.85px;color:#288c3a;">Long</div>
<div class="t sr" style="right:405.00px;top:661.20px;height:46.00px;line-height:46.00px;font-size:12.85px;color:#288c3a;text-align:right;">949</div>
<div class="t sr" style="right:307.60px;top:661.20px;height:46.00px;line-height:46.00px;font-size:12.85px;color:#111111;text-align:right;">12.550,00 $</div>
<div class="t sr" style="right:218.40px;top:661.20px;height:46.00px;line-height:46.00px;font-size:12.85px;color:#288c3a;text-align:right;">13.420,00 $</div>
<div class="t sr" style="right:133.00px;top:661.20px;height:46.00px;line-height:46.00px;font-size:12.85px;color:#288c3a;text-align:right;">-1.510,00 $</div>
<div class="t sr" style="left:1675.00px;top:661.20px;height:46.00px;line-height:46.00px;font-size:12.85px;color:#111111;">-2.277.9…</div>
<div class="t sr" style="right:7.40px;top:661.20px;height:46.00px;line-height:46.00px;font-size:12.85px;color:#288c3a;text-align:right;">+0,55 %</div>
<div style="left:948.80px;top:707.00px;width:850.40px;height:47.00px;background:#d7e4ec"></div>
<div style="left:1400.00px;top:707.00px;width:98.00px;height:47.00px;background:#9bd49a"></div>
<div style="left:1672.00px;top:707.00px;width:63.00px;height:47.00px;background:#de9898"></div>
<div class="t sr" style="left:949.80px;top:706.50px;height:47.00px;line-height:47.00px;font-size:12.85px;color:#111111;">16.07.2025, 20:08:00</div>
<div class="t sr" style="left:1088.40px;top:706.50px;height:47.00px;line-height:47.00px;font-size:12.85px;color:#111111;">17.07.2025, 12:42…</div>
<div class="t sr" style="left:1207.30px;top:706.50px;height:47.00px;line-height:47.00px;font-size:12.85px;color:#288c3a;">Long</div>
<div class="t sr" style="right:405.00px;top:706.50px;height:47.00px;line-height:47.00px;font-size:12.85px;color:#288c3a;text-align:right;">994</div>
<div class="t sr" style="right:307.60px;top:706.50px;height:47.00px;line-height:47.00px;font-size:12.85px;color:#111111;text-align:right;">7.430,00 $</div>
<div class="t sr" style="right:218.40px;top:706.50px;height:47.00px;line-height:47.00px;font-size:12.85px;color:#288c3a;text-align:right;">11.820,00 $</div>
<div class="t sr" style="right:133.00px;top:706.50px;height:47.00px;line-height:47.00px;font-size:12.85px;color:#288c3a;text-align:right;">-1.210,00 $</div>
<div class="t sr" style="left:1675.00px;top:706.50px;height:47.00px;line-height:47.00px;font-size:12.85px;color:#111111;">-2.263.3…</div>
<div class="t sr" style="right:7.40px;top:706.50px;height:47.00px;line-height:47.00px;font-size:12.85px;color:#288c3a;text-align:right;">+0,32 %</div>
<div style="left:948.80px;top:754.00px;width:850.40px;height:46.00px;background:#d2d7de"></div>
<div style="left:1400.00px;top:754.00px;width:98.00px;height:46.00px;background:#9bd49a"></div>
<div style="left:1672.00px;top:754.00px;width:63.00px;height:46.00px;background:#de9898"></div>
<div class="t sr" style="left:949.80px;top:753.90px;height:46.00px;line-height:46.00px;font-size:12.85px;color:#111111;">09.07.2025, 20:06:00</div>
<div class="t sr" style="left:1088.40px;top:753.90px;height:46.00px;line-height:46.00px;font-size:12.85px;color:#111111;">15.07.2025, 13:47…</div>
<div class="t sr" style="left:1207.30px;top:753.90px;height:46.00px;line-height:46.00px;font-size:12.85px;color:#288c3a;">Long</div>
<div class="t sr" style="right:405.00px;top:753.90px;height:46.00px;line-height:46.00px;font-size:12.85px;color:#288c3a;text-align:right;">5.297</div>
<div class="t sr" style="right:307.60px;top:753.90px;height:46.00px;line-height:46.00px;font-size:12.85px;color:#111111;text-align:right;">17.300,00 $</div>
<div class="t sr" style="right:218.40px;top:753.90px;height:46.00px;line-height:46.00px;font-size:12.85px;color:#288c3a;text-align:right;">20.310,00 $</div>
<div class="t sr" style="right:133.00px;top:753.90px;height:46.00px;line-height:46.00px;font-size:12.85px;color:#288c3a;text-align:right;">-17.470,00 $</div>
<div class="t sr" style="left:1675.00px;top:753.90px;height:46.00px;line-height:46.00px;font-size:12.85px;color:#111111;">-2.257.6…</div>
<div class="t sr" style="right:7.40px;top:753.90px;height:46.00px;line-height:46.00px;font-size:12.85px;color:#288c3a;text-align:right;">+0,76 %</div>
<div style="left:948.80px;top:800.00px;width:850.40px;height:46.00px;background:#d7e4ec"></div>
<div style="left:1400.00px;top:800.00px;width:98.00px;height:46.00px;background:#9bd49a"></div>
<div style="left:1672.00px;top:800.00px;width:63.00px;height:46.00px;background:#de9898"></div>
<div class="t sr" style="left:949.80px;top:800.20px;height:46.00px;line-height:46.00px;font-size:12.85px;color:#111111;">02.07.2025, 17:49:00</div>
<div class="t sr" style="left:1088.40px;top:800.20px;height:46.00px;line-height:46.00px;font-size:12.85px;color:#111111;">04.07.2025, 04:10…</div>
<div class="t sr" style="left:1207.30px;top:800.20px;height:46.00px;line-height:46.00px;font-size:12.85px;color:#288c3a;">Long</div>
<div class="t sr" style="right:405.00px;top:800.20px;height:46.00px;line-height:46.00px;font-size:12.85px;color:#288c3a;text-align:right;">1.914</div>
<div class="t sr" style="right:307.60px;top:800.20px;height:46.00px;line-height:46.00px;font-size:12.85px;color:#111111;text-align:right;">19.290,00 $</div>
<div class="t sr" style="right:218.40px;top:800.20px;height:46.00px;line-height:46.00px;font-size:12.85px;color:#288c3a;text-align:right;">28.100,00 $</div>
<div class="t sr" style="right:133.00px;top:800.20px;height:46.00px;line-height:46.00px;font-size:12.85px;color:#288c3a;text-align:right;">-1.410,00 $</div>
<div class="t sr" style="left:1675.00px;top:800.20px;height:46.00px;line-height:46.00px;font-size:12.85px;color:#111111;">-2.238.7…</div>
<div class="t sr" style="right:7.40px;top:800.20px;height:46.00px;line-height:46.00px;font-size:12.85px;color:#288c3a;text-align:right;">+0,85 %</div>
<div style="left:948.80px;top:58.00px;width:850.40px;height:1.00px;background:#dcedf8"></div>
<div style="left:1087.00px;top:58.00px;width:1.00px;height:788.00px;background:#a6b4be"></div>
<div style="left:1206.00px;top:58.00px;width:1.00px;height:788.00px;background:#a6b4be"></div>
<div style="left:1300.00px;top:58.00px;width:1.00px;height:788.00px;background:#a6b4be"></div>
<div style="left:1587.00px;top:58.00px;width:1.00px;height:788.00px;background:#a6b4be"></div>
<div style="left:1400.00px;top:149.00px;width:98.00px;height:1.00px;background:#f2f6f8"></div>
<div style="left:1672.00px;top:149.00px;width:63.00px;height:1.00px;background:#f2f6f8"></div>
<div style="left:948.80px;top:613.00px;width:850.40px;height:1.00px;background:#f2f6f8"></div>
<div style="left:1400.00px;top:753.00px;width:98.00px;height:1.00px;background:#f2f6f8"></div>
<div style="left:1672.00px;top:753.00px;width:63.00px;height:1.00px;background:#f2f6f8"></div>
<div style="left:948.80px;top:846.00px;width:850.40px;height:93.00px;background:#9bbac8"></div>
<div style="left:948.80px;top:939.00px;width:850.40px;height:1.00px;background:#6f8e9a"></div>
<div style="left:948.80px;top:940.00px;width:850.40px;height:1.00px;background:#d4eef6"></div>
<div style="left:948.80px;top:941.00px;width:850.40px;height:18.00px;background:linear-gradient(#a6c4ce,#b8d4de 35%,#c6e2ec 75%,#d0eaf4)"></div>
<div style="left:948.80px;top:959.00px;width:850.40px;height:1.00px;background:#557080"></div>
<div class="t" style="left:951.6px;top:942.2px;font-size:13px;line-height:17px;color:#111">Die obere Statistik basiert auf Daten aus der Vergangenheit. Frühere Performance gibt keinen Hinweis auf zukünftige Ergebnisse.</div>
<div style="left:947.80px;top:0.00px;width:1.10px;height:962.00px;background:#3f5360"></div>
<div style="left:1799.00px;top:0.00px;width:1.00px;height:962.00px;background:#55707f"></div>
</body></html>
